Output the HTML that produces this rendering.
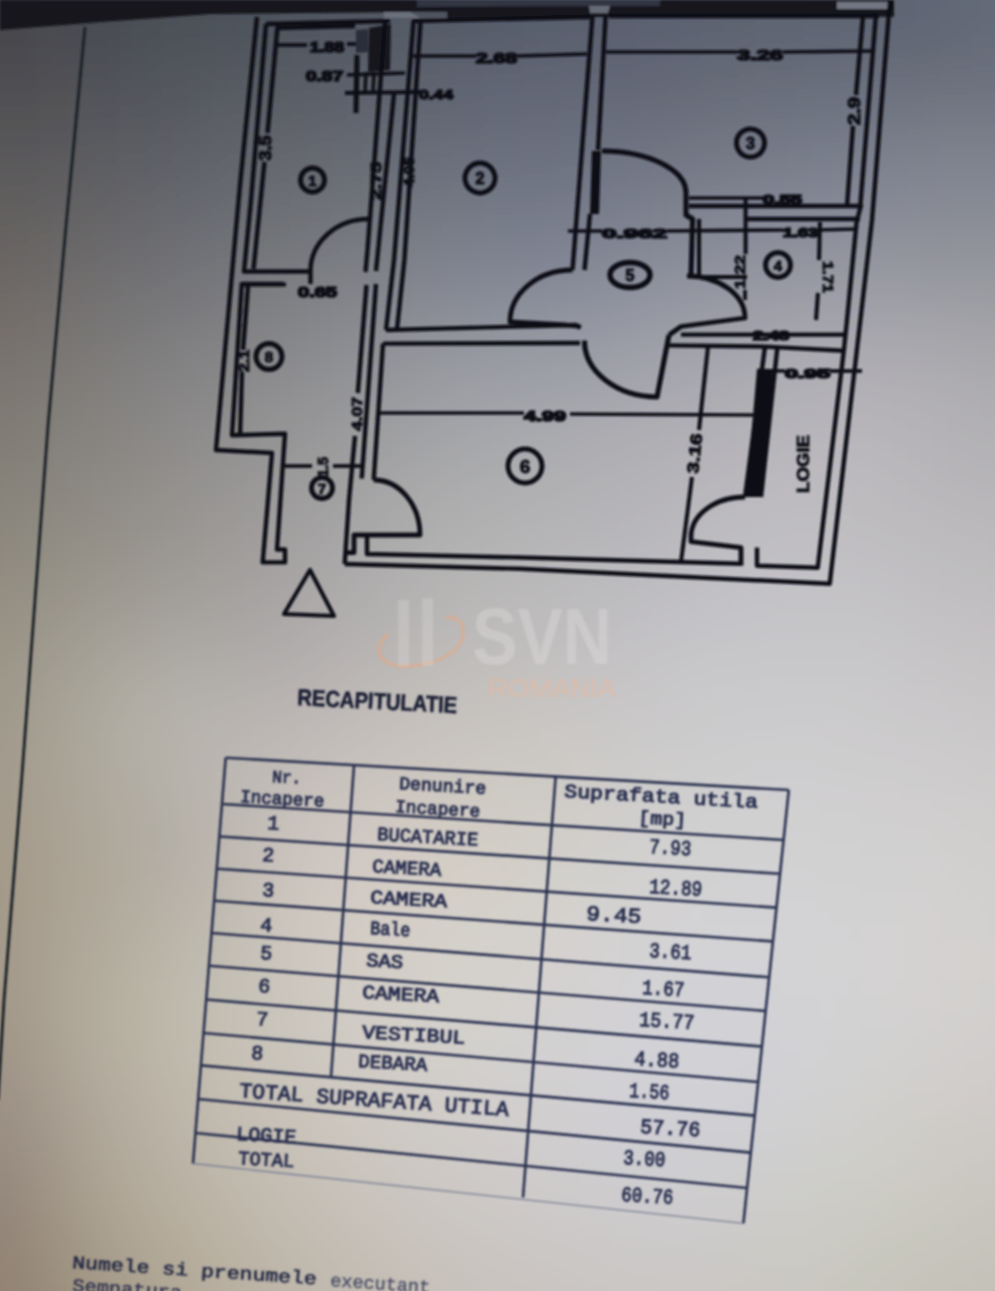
<!DOCTYPE html>
<html><head><meta charset="utf-8"><style>
html,body{margin:0;padding:0;width:995px;height:1291px;overflow:hidden;background:#a8a6a4}
svg{display:block}
</style></head><body>
<svg width="995" height="1291" viewBox="0 0 995 1291">
<defs><filter id="bl" x="-20%" y="-20%" width="140%" height="140%"><feGaussianBlur stdDeviation="28"/></filter>
<filter id="sb" x="-5%" y="-5%" width="110%" height="110%"><feGaussianBlur stdDeviation="1.0"/></filter></defs>
<g filter="url(#bl)"><rect x="-120" y="-120" width="41" height="41" fill="#434448"/><rect x="-80" y="-120" width="41" height="41" fill="#434448"/><rect x="-40" y="-120" width="41" height="41" fill="#434448"/><rect x="0" y="-120" width="41" height="41" fill="#44454a"/><rect x="40" y="-120" width="41" height="41" fill="#45474d"/><rect x="80" y="-120" width="41" height="41" fill="#464950"/><rect x="120" y="-120" width="41" height="41" fill="#474b52"/><rect x="160" y="-120" width="41" height="41" fill="#484d55"/><rect x="200" y="-120" width="41" height="41" fill="#4a4f57"/><rect x="240" y="-120" width="41" height="41" fill="#4b505a"/><rect x="280" y="-120" width="41" height="41" fill="#4d525c"/><rect x="320" y="-120" width="41" height="41" fill="#4e545f"/><rect x="360" y="-120" width="41" height="41" fill="#4f5661"/><rect x="400" y="-120" width="41" height="41" fill="#515764"/><rect x="440" y="-120" width="41" height="41" fill="#525966"/><rect x="480" y="-120" width="41" height="41" fill="#535a68"/><rect x="520" y="-120" width="41" height="41" fill="#555b69"/><rect x="560" y="-120" width="41" height="41" fill="#555c6a"/><rect x="600" y="-120" width="41" height="41" fill="#565d6b"/><rect x="640" y="-120" width="41" height="41" fill="#575e6c"/><rect x="680" y="-120" width="41" height="41" fill="#585f6d"/><rect x="720" y="-120" width="41" height="41" fill="#59606e"/><rect x="760" y="-120" width="41" height="41" fill="#5a616f"/><rect x="800" y="-120" width="41" height="41" fill="#5b626f"/><rect x="840" y="-120" width="41" height="41" fill="#5c6270"/><rect x="880" y="-120" width="41" height="41" fill="#5d6371"/><rect x="920" y="-120" width="41" height="41" fill="#5f6574"/><rect x="960" y="-120" width="41" height="41" fill="#636978"/><rect x="1000" y="-120" width="41" height="41" fill="#646a79"/><rect x="1040" y="-120" width="41" height="41" fill="#646a79"/><rect x="1080" y="-120" width="41" height="41" fill="#646a79"/><rect x="-120" y="-80" width="41" height="41" fill="#434448"/><rect x="-80" y="-80" width="41" height="41" fill="#434448"/><rect x="-40" y="-80" width="41" height="41" fill="#434448"/><rect x="0" y="-80" width="41" height="41" fill="#44454a"/><rect x="40" y="-80" width="41" height="41" fill="#45474d"/><rect x="80" y="-80" width="41" height="41" fill="#464950"/><rect x="120" y="-80" width="41" height="41" fill="#474b52"/><rect x="160" y="-80" width="41" height="41" fill="#484d55"/><rect x="200" y="-80" width="41" height="41" fill="#4a4f57"/><rect x="240" y="-80" width="41" height="41" fill="#4b505a"/><rect x="280" y="-80" width="41" height="41" fill="#4d525c"/><rect x="320" y="-80" width="41" height="41" fill="#4e545f"/><rect x="360" y="-80" width="41" height="41" fill="#4f5661"/><rect x="400" y="-80" width="41" height="41" fill="#515764"/><rect x="440" y="-80" width="41" height="41" fill="#525966"/><rect x="480" y="-80" width="41" height="41" fill="#535a68"/><rect x="520" y="-80" width="41" height="41" fill="#555b69"/><rect x="560" y="-80" width="41" height="41" fill="#555c6a"/><rect x="600" y="-80" width="41" height="41" fill="#565d6b"/><rect x="640" y="-80" width="41" height="41" fill="#575e6c"/><rect x="680" y="-80" width="41" height="41" fill="#585f6d"/><rect x="720" y="-80" width="41" height="41" fill="#59606e"/><rect x="760" y="-80" width="41" height="41" fill="#5a616f"/><rect x="800" y="-80" width="41" height="41" fill="#5b626f"/><rect x="840" y="-80" width="41" height="41" fill="#5c6270"/><rect x="880" y="-80" width="41" height="41" fill="#5d6371"/><rect x="920" y="-80" width="41" height="41" fill="#5f6574"/><rect x="960" y="-80" width="41" height="41" fill="#636978"/><rect x="1000" y="-80" width="41" height="41" fill="#646a79"/><rect x="1040" y="-80" width="41" height="41" fill="#646a79"/><rect x="1080" y="-80" width="41" height="41" fill="#646a79"/><rect x="-120" y="-40" width="41" height="41" fill="#434448"/><rect x="-80" y="-40" width="41" height="41" fill="#434448"/><rect x="-40" y="-40" width="41" height="41" fill="#434448"/><rect x="0" y="-40" width="41" height="41" fill="#44454a"/><rect x="40" y="-40" width="41" height="41" fill="#45474d"/><rect x="80" y="-40" width="41" height="41" fill="#464950"/><rect x="120" y="-40" width="41" height="41" fill="#474b52"/><rect x="160" y="-40" width="41" height="41" fill="#484d55"/><rect x="200" y="-40" width="41" height="41" fill="#4a4f57"/><rect x="240" y="-40" width="41" height="41" fill="#4b505a"/><rect x="280" y="-40" width="41" height="41" fill="#4d525c"/><rect x="320" y="-40" width="41" height="41" fill="#4e545f"/><rect x="360" y="-40" width="41" height="41" fill="#4f5661"/><rect x="400" y="-40" width="41" height="41" fill="#515764"/><rect x="440" y="-40" width="41" height="41" fill="#525966"/><rect x="480" y="-40" width="41" height="41" fill="#535a68"/><rect x="520" y="-40" width="41" height="41" fill="#555b69"/><rect x="560" y="-40" width="41" height="41" fill="#555c6a"/><rect x="600" y="-40" width="41" height="41" fill="#565d6b"/><rect x="640" y="-40" width="41" height="41" fill="#575e6c"/><rect x="680" y="-40" width="41" height="41" fill="#585f6d"/><rect x="720" y="-40" width="41" height="41" fill="#59606e"/><rect x="760" y="-40" width="41" height="41" fill="#5a616f"/><rect x="800" y="-40" width="41" height="41" fill="#5b626f"/><rect x="840" y="-40" width="41" height="41" fill="#5c6270"/><rect x="880" y="-40" width="41" height="41" fill="#5d6371"/><rect x="920" y="-40" width="41" height="41" fill="#5f6574"/><rect x="960" y="-40" width="41" height="41" fill="#636978"/><rect x="1000" y="-40" width="41" height="41" fill="#646a79"/><rect x="1040" y="-40" width="41" height="41" fill="#646a79"/><rect x="1080" y="-40" width="41" height="41" fill="#646a79"/><rect x="-120" y="0" width="41" height="41" fill="#46464a"/><rect x="-80" y="0" width="41" height="41" fill="#46464a"/><rect x="-40" y="0" width="41" height="41" fill="#46464a"/><rect x="0" y="0" width="41" height="41" fill="#46474c"/><rect x="40" y="0" width="41" height="41" fill="#47494f"/><rect x="80" y="0" width="41" height="41" fill="#484b51"/><rect x="120" y="0" width="41" height="41" fill="#494d54"/><rect x="160" y="0" width="41" height="41" fill="#4b4f57"/><rect x="200" y="0" width="41" height="41" fill="#4c5159"/><rect x="240" y="0" width="41" height="41" fill="#4e535c"/><rect x="280" y="0" width="41" height="41" fill="#4f555e"/><rect x="320" y="0" width="41" height="41" fill="#515661"/><rect x="360" y="0" width="41" height="41" fill="#525864"/><rect x="400" y="0" width="41" height="41" fill="#545a66"/><rect x="440" y="0" width="41" height="41" fill="#555b68"/><rect x="480" y="0" width="41" height="41" fill="#565c6a"/><rect x="520" y="0" width="41" height="41" fill="#575e6c"/><rect x="560" y="0" width="41" height="41" fill="#585e6d"/><rect x="600" y="0" width="41" height="41" fill="#595f6e"/><rect x="640" y="0" width="41" height="41" fill="#5a606f"/><rect x="680" y="0" width="41" height="41" fill="#5b6270"/><rect x="720" y="0" width="41" height="41" fill="#5c6370"/><rect x="760" y="0" width="41" height="41" fill="#5d6371"/><rect x="800" y="0" width="41" height="41" fill="#5e6472"/><rect x="840" y="0" width="41" height="41" fill="#5e6572"/><rect x="880" y="0" width="41" height="41" fill="#5f6573"/><rect x="920" y="0" width="41" height="41" fill="#606774"/><rect x="960" y="0" width="41" height="41" fill="#646a78"/><rect x="1000" y="0" width="41" height="41" fill="#656b79"/><rect x="1040" y="0" width="41" height="41" fill="#656b79"/><rect x="1080" y="0" width="41" height="41" fill="#656b79"/><rect x="-120" y="40" width="41" height="41" fill="#4b4b4e"/><rect x="-80" y="40" width="41" height="41" fill="#4b4b4e"/><rect x="-40" y="40" width="41" height="41" fill="#4b4b4e"/><rect x="0" y="40" width="41" height="41" fill="#4c4c50"/><rect x="40" y="40" width="41" height="41" fill="#4d4e53"/><rect x="80" y="40" width="41" height="41" fill="#4e5056"/><rect x="120" y="40" width="41" height="41" fill="#4f5258"/><rect x="160" y="40" width="41" height="41" fill="#50545b"/><rect x="200" y="40" width="41" height="41" fill="#52565e"/><rect x="240" y="40" width="41" height="41" fill="#535860"/><rect x="280" y="40" width="41" height="41" fill="#555a63"/><rect x="320" y="40" width="41" height="41" fill="#575c66"/><rect x="360" y="40" width="41" height="41" fill="#585d68"/><rect x="400" y="40" width="41" height="41" fill="#595f6b"/><rect x="440" y="40" width="41" height="41" fill="#5b606d"/><rect x="480" y="40" width="41" height="41" fill="#5c626f"/><rect x="520" y="40" width="41" height="41" fill="#5d6371"/><rect x="560" y="40" width="41" height="41" fill="#5e6372"/><rect x="600" y="40" width="41" height="41" fill="#5f6472"/><rect x="640" y="40" width="41" height="41" fill="#606573"/><rect x="680" y="40" width="41" height="41" fill="#616774"/><rect x="720" y="40" width="41" height="41" fill="#636875"/><rect x="760" y="40" width="41" height="41" fill="#646976"/><rect x="800" y="40" width="41" height="41" fill="#646a77"/><rect x="840" y="40" width="41" height="41" fill="#656b78"/><rect x="880" y="40" width="41" height="41" fill="#656b77"/><rect x="920" y="40" width="41" height="41" fill="#656b77"/><rect x="960" y="40" width="41" height="41" fill="#676d79"/><rect x="1000" y="40" width="41" height="41" fill="#696f7b"/><rect x="1040" y="40" width="41" height="41" fill="#696f7b"/><rect x="1080" y="40" width="41" height="41" fill="#696f7b"/><rect x="-120" y="80" width="41" height="41" fill="#515052"/><rect x="-80" y="80" width="41" height="41" fill="#515052"/><rect x="-40" y="80" width="41" height="41" fill="#515052"/><rect x="0" y="80" width="41" height="41" fill="#515154"/><rect x="40" y="80" width="41" height="41" fill="#525357"/><rect x="80" y="80" width="41" height="41" fill="#53555a"/><rect x="120" y="80" width="41" height="41" fill="#54575d"/><rect x="160" y="80" width="41" height="41" fill="#565960"/><rect x="200" y="80" width="41" height="41" fill="#585b62"/><rect x="240" y="80" width="41" height="41" fill="#595d65"/><rect x="280" y="80" width="41" height="41" fill="#5b5f68"/><rect x="320" y="80" width="41" height="41" fill="#5d616b"/><rect x="360" y="80" width="41" height="41" fill="#5e636e"/><rect x="400" y="80" width="41" height="41" fill="#606570"/><rect x="440" y="80" width="41" height="41" fill="#616673"/><rect x="480" y="80" width="41" height="41" fill="#626775"/><rect x="520" y="80" width="41" height="41" fill="#636876"/><rect x="560" y="80" width="41" height="41" fill="#646977"/><rect x="600" y="80" width="41" height="41" fill="#656a78"/><rect x="640" y="80" width="41" height="41" fill="#676b79"/><rect x="680" y="80" width="41" height="41" fill="#686d7a"/><rect x="720" y="80" width="41" height="41" fill="#6a6f7b"/><rect x="760" y="80" width="41" height="41" fill="#6b707d"/><rect x="800" y="80" width="41" height="41" fill="#6c717f"/><rect x="840" y="80" width="41" height="41" fill="#6d7280"/><rect x="880" y="80" width="41" height="41" fill="#6e7380"/><rect x="920" y="80" width="41" height="41" fill="#6f7480"/><rect x="960" y="80" width="41" height="41" fill="#707581"/><rect x="1000" y="80" width="41" height="41" fill="#717682"/><rect x="1040" y="80" width="41" height="41" fill="#717682"/><rect x="1080" y="80" width="41" height="41" fill="#717682"/><rect x="-120" y="120" width="41" height="41" fill="#565556"/><rect x="-80" y="120" width="41" height="41" fill="#565556"/><rect x="-40" y="120" width="41" height="41" fill="#565556"/><rect x="0" y="120" width="41" height="41" fill="#575658"/><rect x="40" y="120" width="41" height="41" fill="#58585b"/><rect x="80" y="120" width="41" height="41" fill="#595a5e"/><rect x="120" y="120" width="41" height="41" fill="#5a5c62"/><rect x="160" y="120" width="41" height="41" fill="#5c5f65"/><rect x="200" y="120" width="41" height="41" fill="#5e6167"/><rect x="240" y="120" width="41" height="41" fill="#60636a"/><rect x="280" y="120" width="41" height="41" fill="#62656d"/><rect x="320" y="120" width="41" height="41" fill="#636770"/><rect x="360" y="120" width="41" height="41" fill="#656973"/><rect x="400" y="120" width="41" height="41" fill="#666b76"/><rect x="440" y="120" width="41" height="41" fill="#676c79"/><rect x="480" y="120" width="41" height="41" fill="#686d7b"/><rect x="520" y="120" width="41" height="41" fill="#696e7d"/><rect x="560" y="120" width="41" height="41" fill="#6a6f7e"/><rect x="600" y="120" width="41" height="41" fill="#6c717f"/><rect x="640" y="120" width="41" height="41" fill="#6e7280"/><rect x="680" y="120" width="41" height="41" fill="#707481"/><rect x="720" y="120" width="41" height="41" fill="#727683"/><rect x="760" y="120" width="41" height="41" fill="#737886"/><rect x="800" y="120" width="41" height="41" fill="#757a88"/><rect x="840" y="120" width="41" height="41" fill="#767b89"/><rect x="880" y="120" width="41" height="41" fill="#787d8a"/><rect x="920" y="120" width="41" height="41" fill="#7a7f8b"/><rect x="960" y="120" width="41" height="41" fill="#7b7f8a"/><rect x="1000" y="120" width="41" height="41" fill="#7b7f8a"/><rect x="1040" y="120" width="41" height="41" fill="#7b7f8a"/><rect x="1080" y="120" width="41" height="41" fill="#7b7f8a"/><rect x="-120" y="160" width="41" height="41" fill="#5c5a5a"/><rect x="-80" y="160" width="41" height="41" fill="#5c5a5a"/><rect x="-40" y="160" width="41" height="41" fill="#5c5a5a"/><rect x="0" y="160" width="41" height="41" fill="#5d5b5c"/><rect x="40" y="160" width="41" height="41" fill="#5e5d60"/><rect x="80" y="160" width="41" height="41" fill="#5f6063"/><rect x="120" y="160" width="41" height="41" fill="#616267"/><rect x="160" y="160" width="41" height="41" fill="#62646a"/><rect x="200" y="160" width="41" height="41" fill="#64676d"/><rect x="240" y="160" width="41" height="41" fill="#67696f"/><rect x="280" y="160" width="41" height="41" fill="#696c72"/><rect x="320" y="160" width="41" height="41" fill="#6b6e75"/><rect x="360" y="160" width="41" height="41" fill="#6c7079"/><rect x="400" y="160" width="41" height="41" fill="#6d717c"/><rect x="440" y="160" width="41" height="41" fill="#6e737f"/><rect x="480" y="160" width="41" height="41" fill="#6f7482"/><rect x="520" y="160" width="41" height="41" fill="#707583"/><rect x="560" y="160" width="41" height="41" fill="#717685"/><rect x="600" y="160" width="41" height="41" fill="#737887"/><rect x="640" y="160" width="41" height="41" fill="#767a88"/><rect x="680" y="160" width="41" height="41" fill="#787c8a"/><rect x="720" y="160" width="41" height="41" fill="#7b7f8c"/><rect x="760" y="160" width="41" height="41" fill="#7c808e"/><rect x="800" y="160" width="41" height="41" fill="#7e8290"/><rect x="840" y="160" width="41" height="41" fill="#808491"/><rect x="880" y="160" width="41" height="41" fill="#828591"/><rect x="920" y="160" width="41" height="41" fill="#838792"/><rect x="960" y="160" width="41" height="41" fill="#838791"/><rect x="1000" y="160" width="41" height="41" fill="#838791"/><rect x="1040" y="160" width="41" height="41" fill="#838791"/><rect x="1080" y="160" width="41" height="41" fill="#838791"/><rect x="-120" y="200" width="41" height="41" fill="#635f5e"/><rect x="-80" y="200" width="41" height="41" fill="#635f5e"/><rect x="-40" y="200" width="41" height="41" fill="#635f5e"/><rect x="0" y="200" width="41" height="41" fill="#646060"/><rect x="40" y="200" width="41" height="41" fill="#656364"/><rect x="80" y="200" width="41" height="41" fill="#666568"/><rect x="120" y="200" width="41" height="41" fill="#67686c"/><rect x="160" y="200" width="41" height="41" fill="#696a70"/><rect x="200" y="200" width="41" height="41" fill="#6b6d73"/><rect x="240" y="200" width="41" height="41" fill="#6e7075"/><rect x="280" y="200" width="41" height="41" fill="#707278"/><rect x="320" y="200" width="41" height="41" fill="#72757c"/><rect x="360" y="200" width="41" height="41" fill="#74777f"/><rect x="400" y="200" width="41" height="41" fill="#757983"/><rect x="440" y="200" width="41" height="41" fill="#767a86"/><rect x="480" y="200" width="41" height="41" fill="#767b89"/><rect x="520" y="200" width="41" height="41" fill="#777c8b"/><rect x="560" y="200" width="41" height="41" fill="#797e8d"/><rect x="600" y="200" width="41" height="41" fill="#7c808e"/><rect x="640" y="200" width="41" height="41" fill="#7f8390"/><rect x="680" y="200" width="41" height="41" fill="#828592"/><rect x="720" y="200" width="41" height="41" fill="#848794"/><rect x="760" y="200" width="41" height="41" fill="#868a96"/><rect x="800" y="200" width="41" height="41" fill="#888b97"/><rect x="840" y="200" width="41" height="41" fill="#898c98"/><rect x="880" y="200" width="41" height="41" fill="#8a8d97"/><rect x="920" y="200" width="41" height="41" fill="#8a8c96"/><rect x="960" y="200" width="41" height="41" fill="#8a8d96"/><rect x="1000" y="200" width="41" height="41" fill="#8b8d96"/><rect x="1040" y="200" width="41" height="41" fill="#8b8d96"/><rect x="1080" y="200" width="41" height="41" fill="#8b8d96"/><rect x="-120" y="240" width="41" height="41" fill="#696462"/><rect x="-80" y="240" width="41" height="41" fill="#696462"/><rect x="-40" y="240" width="41" height="41" fill="#696462"/><rect x="0" y="240" width="41" height="41" fill="#6a6664"/><rect x="40" y="240" width="41" height="41" fill="#6c6969"/><rect x="80" y="240" width="41" height="41" fill="#6d6b6d"/><rect x="120" y="240" width="41" height="41" fill="#6e6e72"/><rect x="160" y="240" width="41" height="41" fill="#707176"/><rect x="200" y="240" width="41" height="41" fill="#727479"/><rect x="240" y="240" width="41" height="41" fill="#75777b"/><rect x="280" y="240" width="41" height="41" fill="#787a7e"/><rect x="320" y="240" width="41" height="41" fill="#7a7c82"/><rect x="360" y="240" width="41" height="41" fill="#7c7f86"/><rect x="400" y="240" width="41" height="41" fill="#7e818a"/><rect x="440" y="240" width="41" height="41" fill="#7e828e"/><rect x="480" y="240" width="41" height="41" fill="#7f8390"/><rect x="520" y="240" width="41" height="41" fill="#808492"/><rect x="560" y="240" width="41" height="41" fill="#828694"/><rect x="600" y="240" width="41" height="41" fill="#858996"/><rect x="640" y="240" width="41" height="41" fill="#888c98"/><rect x="680" y="240" width="41" height="41" fill="#8b8e9a"/><rect x="720" y="240" width="41" height="41" fill="#8e919c"/><rect x="760" y="240" width="41" height="41" fill="#91939e"/><rect x="800" y="240" width="41" height="41" fill="#93949f"/><rect x="840" y="240" width="41" height="41" fill="#93959f"/><rect x="880" y="240" width="41" height="41" fill="#93959d"/><rect x="920" y="240" width="41" height="41" fill="#92949b"/><rect x="960" y="240" width="41" height="41" fill="#92949b"/><rect x="1000" y="240" width="41" height="41" fill="#93949b"/><rect x="1040" y="240" width="41" height="41" fill="#93949b"/><rect x="1080" y="240" width="41" height="41" fill="#93949b"/><rect x="-120" y="280" width="41" height="41" fill="#6f6a66"/><rect x="-80" y="280" width="41" height="41" fill="#6f6a66"/><rect x="-40" y="280" width="41" height="41" fill="#6f6a66"/><rect x="0" y="280" width="41" height="41" fill="#706b68"/><rect x="40" y="280" width="41" height="41" fill="#726e6d"/><rect x="80" y="280" width="41" height="41" fill="#747272"/><rect x="120" y="280" width="41" height="41" fill="#757477"/><rect x="160" y="280" width="41" height="41" fill="#77777b"/><rect x="200" y="280" width="41" height="41" fill="#7a7a7e"/><rect x="240" y="280" width="41" height="41" fill="#7d7e82"/><rect x="280" y="280" width="41" height="41" fill="#808185"/><rect x="320" y="280" width="41" height="41" fill="#828489"/><rect x="360" y="280" width="41" height="41" fill="#85878e"/><rect x="400" y="280" width="41" height="41" fill="#878992"/><rect x="440" y="280" width="41" height="41" fill="#888b95"/><rect x="480" y="280" width="41" height="41" fill="#898d98"/><rect x="520" y="280" width="41" height="41" fill="#8a8e9a"/><rect x="560" y="280" width="41" height="41" fill="#8c909c"/><rect x="600" y="280" width="41" height="41" fill="#8f929e"/><rect x="640" y="280" width="41" height="41" fill="#9295a0"/><rect x="680" y="280" width="41" height="41" fill="#9597a2"/><rect x="720" y="280" width="41" height="41" fill="#999aa4"/><rect x="760" y="280" width="41" height="41" fill="#9b9ca6"/><rect x="800" y="280" width="41" height="41" fill="#9d9ea7"/><rect x="840" y="280" width="41" height="41" fill="#9e9fa7"/><rect x="880" y="280" width="41" height="41" fill="#9e9ea6"/><rect x="920" y="280" width="41" height="41" fill="#9d9ea4"/><rect x="960" y="280" width="41" height="41" fill="#9c9da3"/><rect x="1000" y="280" width="41" height="41" fill="#9c9ca2"/><rect x="1040" y="280" width="41" height="41" fill="#9c9ca2"/><rect x="1080" y="280" width="41" height="41" fill="#9c9ca2"/><rect x="-120" y="320" width="41" height="41" fill="#756f6a"/><rect x="-80" y="320" width="41" height="41" fill="#756f6a"/><rect x="-40" y="320" width="41" height="41" fill="#756f6a"/><rect x="0" y="320" width="41" height="41" fill="#76716d"/><rect x="40" y="320" width="41" height="41" fill="#787472"/><rect x="80" y="320" width="41" height="41" fill="#7a7877"/><rect x="120" y="320" width="41" height="41" fill="#7c7b7c"/><rect x="160" y="320" width="41" height="41" fill="#7f7e80"/><rect x="200" y="320" width="41" height="41" fill="#818184"/><rect x="240" y="320" width="41" height="41" fill="#848487"/><rect x="280" y="320" width="41" height="41" fill="#87888b"/><rect x="320" y="320" width="41" height="41" fill="#8a8b90"/><rect x="360" y="320" width="41" height="41" fill="#8d8f94"/><rect x="400" y="320" width="41" height="41" fill="#909299"/><rect x="440" y="320" width="41" height="41" fill="#92949c"/><rect x="480" y="320" width="41" height="41" fill="#93969f"/><rect x="520" y="320" width="41" height="41" fill="#9497a1"/><rect x="560" y="320" width="41" height="41" fill="#9699a3"/><rect x="600" y="320" width="41" height="41" fill="#999ba5"/><rect x="640" y="320" width="41" height="41" fill="#9c9ea7"/><rect x="680" y="320" width="41" height="41" fill="#9fa0a9"/><rect x="720" y="320" width="41" height="41" fill="#a2a3ab"/><rect x="760" y="320" width="41" height="41" fill="#a5a5ad"/><rect x="800" y="320" width="41" height="41" fill="#a7a7ae"/><rect x="840" y="320" width="41" height="41" fill="#a8a8ae"/><rect x="880" y="320" width="41" height="41" fill="#a8a7ad"/><rect x="920" y="320" width="41" height="41" fill="#a7a6ac"/><rect x="960" y="320" width="41" height="41" fill="#a5a5aa"/><rect x="1000" y="320" width="41" height="41" fill="#a4a4a9"/><rect x="1040" y="320" width="41" height="41" fill="#a4a4a9"/><rect x="1080" y="320" width="41" height="41" fill="#a4a4a9"/><rect x="-120" y="360" width="41" height="41" fill="#7a746e"/><rect x="-80" y="360" width="41" height="41" fill="#7a746e"/><rect x="-40" y="360" width="41" height="41" fill="#7a746e"/><rect x="0" y="360" width="41" height="41" fill="#7b7671"/><rect x="40" y="360" width="41" height="41" fill="#7e7a76"/><rect x="80" y="360" width="41" height="41" fill="#807d7b"/><rect x="120" y="360" width="41" height="41" fill="#838180"/><rect x="160" y="360" width="41" height="41" fill="#858485"/><rect x="200" y="360" width="41" height="41" fill="#888789"/><rect x="240" y="360" width="41" height="41" fill="#8b8b8d"/><rect x="280" y="360" width="41" height="41" fill="#8e8e91"/><rect x="320" y="360" width="41" height="41" fill="#919296"/><rect x="360" y="360" width="41" height="41" fill="#95969a"/><rect x="400" y="360" width="41" height="41" fill="#989a9f"/><rect x="440" y="360" width="41" height="41" fill="#9b9da3"/><rect x="480" y="360" width="41" height="41" fill="#9c9ea5"/><rect x="520" y="360" width="41" height="41" fill="#9ea0a7"/><rect x="560" y="360" width="41" height="41" fill="#a0a2a9"/><rect x="600" y="360" width="41" height="41" fill="#a2a3ab"/><rect x="640" y="360" width="41" height="41" fill="#a5a6ad"/><rect x="680" y="360" width="41" height="41" fill="#a8a8af"/><rect x="720" y="360" width="41" height="41" fill="#abaab1"/><rect x="760" y="360" width="41" height="41" fill="#aeadb3"/><rect x="800" y="360" width="41" height="41" fill="#b0afb5"/><rect x="840" y="360" width="41" height="41" fill="#b1afb5"/><rect x="880" y="360" width="41" height="41" fill="#b0aeb3"/><rect x="920" y="360" width="41" height="41" fill="#aeadb1"/><rect x="960" y="360" width="41" height="41" fill="#acabaf"/><rect x="1000" y="360" width="41" height="41" fill="#abaaae"/><rect x="1040" y="360" width="41" height="41" fill="#abaaae"/><rect x="1080" y="360" width="41" height="41" fill="#abaaae"/><rect x="-120" y="400" width="41" height="41" fill="#7e7972"/><rect x="-80" y="400" width="41" height="41" fill="#7e7972"/><rect x="-40" y="400" width="41" height="41" fill="#7e7972"/><rect x="0" y="400" width="41" height="41" fill="#807b75"/><rect x="40" y="400" width="41" height="41" fill="#837f7a"/><rect x="80" y="400" width="41" height="41" fill="#85837f"/><rect x="120" y="400" width="41" height="41" fill="#888684"/><rect x="160" y="400" width="41" height="41" fill="#8b8989"/><rect x="200" y="400" width="41" height="41" fill="#8e8d8d"/><rect x="240" y="400" width="41" height="41" fill="#919091"/><rect x="280" y="400" width="41" height="41" fill="#949496"/><rect x="320" y="400" width="41" height="41" fill="#98989a"/><rect x="360" y="400" width="41" height="41" fill="#9b9c9f"/><rect x="400" y="400" width="41" height="41" fill="#9fa0a4"/><rect x="440" y="400" width="41" height="41" fill="#a2a3a7"/><rect x="480" y="400" width="41" height="41" fill="#a4a5aa"/><rect x="520" y="400" width="41" height="41" fill="#a6a7ac"/><rect x="560" y="400" width="41" height="41" fill="#a8a9ae"/><rect x="600" y="400" width="41" height="41" fill="#aaabb0"/><rect x="640" y="400" width="41" height="41" fill="#adacb2"/><rect x="680" y="400" width="41" height="41" fill="#afaeb4"/><rect x="720" y="400" width="41" height="41" fill="#b2b1b6"/><rect x="760" y="400" width="41" height="41" fill="#b4b3b8"/><rect x="800" y="400" width="41" height="41" fill="#b6b4b9"/><rect x="840" y="400" width="41" height="41" fill="#b7b5b9"/><rect x="880" y="400" width="41" height="41" fill="#b5b3b7"/><rect x="920" y="400" width="41" height="41" fill="#b3b1b5"/><rect x="960" y="400" width="41" height="41" fill="#b1afb3"/><rect x="1000" y="400" width="41" height="41" fill="#b0aeb2"/><rect x="1040" y="400" width="41" height="41" fill="#b0aeb2"/><rect x="1080" y="400" width="41" height="41" fill="#b0aeb2"/><rect x="-120" y="440" width="41" height="41" fill="#837e76"/><rect x="-80" y="440" width="41" height="41" fill="#837e76"/><rect x="-40" y="440" width="41" height="41" fill="#837e76"/><rect x="0" y="440" width="41" height="41" fill="#848079"/><rect x="40" y="440" width="41" height="41" fill="#87847e"/><rect x="80" y="440" width="41" height="41" fill="#8a8782"/><rect x="120" y="440" width="41" height="41" fill="#8d8a87"/><rect x="160" y="440" width="41" height="41" fill="#908e8c"/><rect x="200" y="440" width="41" height="41" fill="#939190"/><rect x="240" y="440" width="41" height="41" fill="#969595"/><rect x="280" y="440" width="41" height="41" fill="#9a999a"/><rect x="320" y="440" width="41" height="41" fill="#9d9d9f"/><rect x="360" y="440" width="41" height="41" fill="#a1a1a3"/><rect x="400" y="440" width="41" height="41" fill="#a5a5a7"/><rect x="440" y="440" width="41" height="41" fill="#a8a9ab"/><rect x="480" y="440" width="41" height="41" fill="#aaabad"/><rect x="520" y="440" width="41" height="41" fill="#acadb0"/><rect x="560" y="440" width="41" height="41" fill="#afaeb2"/><rect x="600" y="440" width="41" height="41" fill="#b1b0b4"/><rect x="640" y="440" width="41" height="41" fill="#b2b1b6"/><rect x="680" y="440" width="41" height="41" fill="#b5b3b8"/><rect x="720" y="440" width="41" height="41" fill="#b7b5bb"/><rect x="760" y="440" width="41" height="41" fill="#b9b7bc"/><rect x="800" y="440" width="41" height="41" fill="#bab8bd"/><rect x="840" y="440" width="41" height="41" fill="#bab8bc"/><rect x="880" y="440" width="41" height="41" fill="#b9b7ba"/><rect x="920" y="440" width="41" height="41" fill="#b6b4b8"/><rect x="960" y="440" width="41" height="41" fill="#b4b3b6"/><rect x="1000" y="440" width="41" height="41" fill="#b4b2b5"/><rect x="1040" y="440" width="41" height="41" fill="#b4b2b5"/><rect x="1080" y="440" width="41" height="41" fill="#b4b2b5"/><rect x="-120" y="480" width="41" height="41" fill="#878279"/><rect x="-80" y="480" width="41" height="41" fill="#878279"/><rect x="-40" y="480" width="41" height="41" fill="#878279"/><rect x="0" y="480" width="41" height="41" fill="#89857c"/><rect x="40" y="480" width="41" height="41" fill="#8c8881"/><rect x="80" y="480" width="41" height="41" fill="#8f8b85"/><rect x="120" y="480" width="41" height="41" fill="#928e8a"/><rect x="160" y="480" width="41" height="41" fill="#95928f"/><rect x="200" y="480" width="41" height="41" fill="#989594"/><rect x="240" y="480" width="41" height="41" fill="#9b9999"/><rect x="280" y="480" width="41" height="41" fill="#9f9d9d"/><rect x="320" y="480" width="41" height="41" fill="#a2a2a2"/><rect x="360" y="480" width="41" height="41" fill="#a6a6a7"/><rect x="400" y="480" width="41" height="41" fill="#aaaaab"/><rect x="440" y="480" width="41" height="41" fill="#adadae"/><rect x="480" y="480" width="41" height="41" fill="#afafb1"/><rect x="520" y="480" width="41" height="41" fill="#b1b1b3"/><rect x="560" y="480" width="41" height="41" fill="#b3b2b5"/><rect x="600" y="480" width="41" height="41" fill="#b4b3b7"/><rect x="640" y="480" width="41" height="41" fill="#b6b5b9"/><rect x="680" y="480" width="41" height="41" fill="#b9b7bc"/><rect x="720" y="480" width="41" height="41" fill="#bbb9be"/><rect x="760" y="480" width="41" height="41" fill="#bdbbbf"/><rect x="800" y="480" width="41" height="41" fill="#bdbbbf"/><rect x="840" y="480" width="41" height="41" fill="#bdbbbe"/><rect x="880" y="480" width="41" height="41" fill="#bbb9bd"/><rect x="920" y="480" width="41" height="41" fill="#b9b7ba"/><rect x="960" y="480" width="41" height="41" fill="#b8b6b9"/><rect x="1000" y="480" width="41" height="41" fill="#b7b5b8"/><rect x="1040" y="480" width="41" height="41" fill="#b7b5b8"/><rect x="1080" y="480" width="41" height="41" fill="#b7b5b8"/><rect x="-120" y="520" width="41" height="41" fill="#8c877c"/><rect x="-80" y="520" width="41" height="41" fill="#8c877c"/><rect x="-40" y="520" width="41" height="41" fill="#8c877c"/><rect x="0" y="520" width="41" height="41" fill="#8e897f"/><rect x="40" y="520" width="41" height="41" fill="#918d84"/><rect x="80" y="520" width="41" height="41" fill="#949088"/><rect x="120" y="520" width="41" height="41" fill="#96938d"/><rect x="160" y="520" width="41" height="41" fill="#9a9692"/><rect x="200" y="520" width="41" height="41" fill="#9d9a97"/><rect x="240" y="520" width="41" height="41" fill="#a09d9c"/><rect x="280" y="520" width="41" height="41" fill="#a3a1a1"/><rect x="320" y="520" width="41" height="41" fill="#a7a5a6"/><rect x="360" y="520" width="41" height="41" fill="#abaaaa"/><rect x="400" y="520" width="41" height="41" fill="#aeaeae"/><rect x="440" y="520" width="41" height="41" fill="#b1b1b1"/><rect x="480" y="520" width="41" height="41" fill="#b3b3b4"/><rect x="520" y="520" width="41" height="41" fill="#b5b4b6"/><rect x="560" y="520" width="41" height="41" fill="#b6b5b8"/><rect x="600" y="520" width="41" height="41" fill="#b7b6ba"/><rect x="640" y="520" width="41" height="41" fill="#b9b8bd"/><rect x="680" y="520" width="41" height="41" fill="#bcbbbf"/><rect x="720" y="520" width="41" height="41" fill="#bebdc1"/><rect x="760" y="520" width="41" height="41" fill="#c0bec2"/><rect x="800" y="520" width="41" height="41" fill="#c0bec2"/><rect x="840" y="520" width="41" height="41" fill="#c0bec1"/><rect x="880" y="520" width="41" height="41" fill="#bebcbf"/><rect x="920" y="520" width="41" height="41" fill="#bdbbbd"/><rect x="960" y="520" width="41" height="41" fill="#bbb9bc"/><rect x="1000" y="520" width="41" height="41" fill="#bbb9bb"/><rect x="1040" y="520" width="41" height="41" fill="#bbb9bb"/><rect x="1080" y="520" width="41" height="41" fill="#bbb9bb"/><rect x="-120" y="560" width="41" height="41" fill="#918b80"/><rect x="-80" y="560" width="41" height="41" fill="#918b80"/><rect x="-40" y="560" width="41" height="41" fill="#918b80"/><rect x="0" y="560" width="41" height="41" fill="#938e83"/><rect x="40" y="560" width="41" height="41" fill="#969288"/><rect x="80" y="560" width="41" height="41" fill="#9a958d"/><rect x="120" y="560" width="41" height="41" fill="#9d9992"/><rect x="160" y="560" width="41" height="41" fill="#9f9c97"/><rect x="200" y="560" width="41" height="41" fill="#a29e9c"/><rect x="240" y="560" width="41" height="41" fill="#a4a1a0"/><rect x="280" y="560" width="41" height="41" fill="#a8a5a5"/><rect x="320" y="560" width="41" height="41" fill="#aca9a9"/><rect x="360" y="560" width="41" height="41" fill="#afaead"/><rect x="400" y="560" width="41" height="41" fill="#b3b1b1"/><rect x="440" y="560" width="41" height="41" fill="#b6b5b4"/><rect x="480" y="560" width="41" height="41" fill="#b8b7b7"/><rect x="520" y="560" width="41" height="41" fill="#b9b8b9"/><rect x="560" y="560" width="41" height="41" fill="#bab9bb"/><rect x="600" y="560" width="41" height="41" fill="#bbbabe"/><rect x="640" y="560" width="41" height="41" fill="#bdbcc0"/><rect x="680" y="560" width="41" height="41" fill="#c0bec3"/><rect x="720" y="560" width="41" height="41" fill="#c1c0c5"/><rect x="760" y="560" width="41" height="41" fill="#c2c1c5"/><rect x="800" y="560" width="41" height="41" fill="#c3c1c5"/><rect x="840" y="560" width="41" height="41" fill="#c2c1c4"/><rect x="880" y="560" width="41" height="41" fill="#c1c0c2"/><rect x="920" y="560" width="41" height="41" fill="#c0bec1"/><rect x="960" y="560" width="41" height="41" fill="#bfbdbf"/><rect x="1000" y="560" width="41" height="41" fill="#bfbcbe"/><rect x="1040" y="560" width="41" height="41" fill="#bfbcbe"/><rect x="1080" y="560" width="41" height="41" fill="#bfbcbe"/><rect x="-120" y="600" width="41" height="41" fill="#969083"/><rect x="-80" y="600" width="41" height="41" fill="#969083"/><rect x="-40" y="600" width="41" height="41" fill="#969083"/><rect x="0" y="600" width="41" height="41" fill="#989286"/><rect x="40" y="600" width="41" height="41" fill="#9c988d"/><rect x="80" y="600" width="41" height="41" fill="#a09c93"/><rect x="120" y="600" width="41" height="41" fill="#a4a099"/><rect x="160" y="600" width="41" height="41" fill="#a6a39e"/><rect x="200" y="600" width="41" height="41" fill="#a8a4a1"/><rect x="240" y="600" width="41" height="41" fill="#a9a6a5"/><rect x="280" y="600" width="41" height="41" fill="#ada9a9"/><rect x="320" y="600" width="41" height="41" fill="#b0adad"/><rect x="360" y="600" width="41" height="41" fill="#b4b1b1"/><rect x="400" y="600" width="41" height="41" fill="#b7b5b4"/><rect x="440" y="600" width="41" height="41" fill="#bab8b7"/><rect x="480" y="600" width="41" height="41" fill="#bcbab9"/><rect x="520" y="600" width="41" height="41" fill="#bdbcbc"/><rect x="560" y="600" width="41" height="41" fill="#bebdbe"/><rect x="600" y="600" width="41" height="41" fill="#c0bec1"/><rect x="640" y="600" width="41" height="41" fill="#c1c0c4"/><rect x="680" y="600" width="41" height="41" fill="#c3c2c6"/><rect x="720" y="600" width="41" height="41" fill="#c4c4c8"/><rect x="760" y="600" width="41" height="41" fill="#c5c4c8"/><rect x="800" y="600" width="41" height="41" fill="#c5c4c7"/><rect x="840" y="600" width="41" height="41" fill="#c5c4c7"/><rect x="880" y="600" width="41" height="41" fill="#c4c3c5"/><rect x="920" y="600" width="41" height="41" fill="#c3c1c4"/><rect x="960" y="600" width="41" height="41" fill="#c3c0c2"/><rect x="1000" y="600" width="41" height="41" fill="#c2c0c2"/><rect x="1040" y="600" width="41" height="41" fill="#c2c0c2"/><rect x="1080" y="600" width="41" height="41" fill="#c2c0c2"/><rect x="-120" y="640" width="41" height="41" fill="#9a9486"/><rect x="-80" y="640" width="41" height="41" fill="#9a9486"/><rect x="-40" y="640" width="41" height="41" fill="#9a9486"/><rect x="0" y="640" width="41" height="41" fill="#9d978a"/><rect x="40" y="640" width="41" height="41" fill="#a29d92"/><rect x="80" y="640" width="41" height="41" fill="#a7a399"/><rect x="120" y="640" width="41" height="41" fill="#aba8a0"/><rect x="160" y="640" width="41" height="41" fill="#aeaaa5"/><rect x="200" y="640" width="41" height="41" fill="#aeaba7"/><rect x="240" y="640" width="41" height="41" fill="#afabaa"/><rect x="280" y="640" width="41" height="41" fill="#b2aead"/><rect x="320" y="640" width="41" height="41" fill="#b6b2b1"/><rect x="360" y="640" width="41" height="41" fill="#b9b6b4"/><rect x="400" y="640" width="41" height="41" fill="#bcb9b7"/><rect x="440" y="640" width="41" height="41" fill="#bfbcba"/><rect x="480" y="640" width="41" height="41" fill="#c0bebc"/><rect x="520" y="640" width="41" height="41" fill="#c2c0bf"/><rect x="560" y="640" width="41" height="41" fill="#c3c1c1"/><rect x="600" y="640" width="41" height="41" fill="#c4c2c4"/><rect x="640" y="640" width="41" height="41" fill="#c5c4c7"/><rect x="680" y="640" width="41" height="41" fill="#c7c6c9"/><rect x="720" y="640" width="41" height="41" fill="#c7c7ca"/><rect x="760" y="640" width="41" height="41" fill="#c8c7ca"/><rect x="800" y="640" width="41" height="41" fill="#c8c7ca"/><rect x="840" y="640" width="41" height="41" fill="#c8c7c9"/><rect x="880" y="640" width="41" height="41" fill="#c7c6c8"/><rect x="920" y="640" width="41" height="41" fill="#c7c4c6"/><rect x="960" y="640" width="41" height="41" fill="#c6c3c5"/><rect x="1000" y="640" width="41" height="41" fill="#c5c3c4"/><rect x="1040" y="640" width="41" height="41" fill="#c5c3c4"/><rect x="1080" y="640" width="41" height="41" fill="#c5c3c4"/><rect x="-120" y="680" width="41" height="41" fill="#9d9689"/><rect x="-80" y="680" width="41" height="41" fill="#9d9689"/><rect x="-40" y="680" width="41" height="41" fill="#9d9689"/><rect x="0" y="680" width="41" height="41" fill="#a09a8d"/><rect x="40" y="680" width="41" height="41" fill="#a6a195"/><rect x="80" y="680" width="41" height="41" fill="#aca89d"/><rect x="120" y="680" width="41" height="41" fill="#b1aea5"/><rect x="160" y="680" width="41" height="41" fill="#b4b1ab"/><rect x="200" y="680" width="41" height="41" fill="#b5b1ad"/><rect x="240" y="680" width="41" height="41" fill="#b6b2af"/><rect x="280" y="680" width="41" height="41" fill="#b9b4b2"/><rect x="320" y="680" width="41" height="41" fill="#bcb7b5"/><rect x="360" y="680" width="41" height="41" fill="#bfbbb8"/><rect x="400" y="680" width="41" height="41" fill="#c2beba"/><rect x="440" y="680" width="41" height="41" fill="#c4c0bc"/><rect x="480" y="680" width="41" height="41" fill="#c5c2bf"/><rect x="520" y="680" width="41" height="41" fill="#c6c3c1"/><rect x="560" y="680" width="41" height="41" fill="#c7c5c4"/><rect x="600" y="680" width="41" height="41" fill="#c8c6c6"/><rect x="640" y="680" width="41" height="41" fill="#c9c7c9"/><rect x="680" y="680" width="41" height="41" fill="#c9c9cb"/><rect x="720" y="680" width="41" height="41" fill="#cacacc"/><rect x="760" y="680" width="41" height="41" fill="#cacacc"/><rect x="800" y="680" width="41" height="41" fill="#cacacc"/><rect x="840" y="680" width="41" height="41" fill="#cac9cb"/><rect x="880" y="680" width="41" height="41" fill="#cac8ca"/><rect x="920" y="680" width="41" height="41" fill="#c9c7c9"/><rect x="960" y="680" width="41" height="41" fill="#c9c6c7"/><rect x="1000" y="680" width="41" height="41" fill="#c8c5c7"/><rect x="1040" y="680" width="41" height="41" fill="#c8c5c7"/><rect x="1080" y="680" width="41" height="41" fill="#c8c5c7"/><rect x="-120" y="720" width="41" height="41" fill="#a0988a"/><rect x="-80" y="720" width="41" height="41" fill="#a0988a"/><rect x="-40" y="720" width="41" height="41" fill="#a0988a"/><rect x="0" y="720" width="41" height="41" fill="#a39c8e"/><rect x="40" y="720" width="41" height="41" fill="#a9a396"/><rect x="80" y="720" width="41" height="41" fill="#aeaa9f"/><rect x="120" y="720" width="41" height="41" fill="#b4b0a7"/><rect x="160" y="720" width="41" height="41" fill="#b7b3ac"/><rect x="200" y="720" width="41" height="41" fill="#b9b5b0"/><rect x="240" y="720" width="41" height="41" fill="#bcb7b3"/><rect x="280" y="720" width="41" height="41" fill="#bfbab7"/><rect x="320" y="720" width="41" height="41" fill="#c2bdb9"/><rect x="360" y="720" width="41" height="41" fill="#c5c0bc"/><rect x="400" y="720" width="41" height="41" fill="#c7c2bd"/><rect x="440" y="720" width="41" height="41" fill="#c8c4bf"/><rect x="480" y="720" width="41" height="41" fill="#c9c5c1"/><rect x="520" y="720" width="41" height="41" fill="#cac7c3"/><rect x="560" y="720" width="41" height="41" fill="#cbc8c6"/><rect x="600" y="720" width="41" height="41" fill="#cbc9c8"/><rect x="640" y="720" width="41" height="41" fill="#cccacb"/><rect x="680" y="720" width="41" height="41" fill="#cccbcc"/><rect x="720" y="720" width="41" height="41" fill="#ccccce"/><rect x="760" y="720" width="41" height="41" fill="#ccccce"/><rect x="800" y="720" width="41" height="41" fill="#cdccce"/><rect x="840" y="720" width="41" height="41" fill="#cdcccd"/><rect x="880" y="720" width="41" height="41" fill="#cccbcc"/><rect x="920" y="720" width="41" height="41" fill="#cccacb"/><rect x="960" y="720" width="41" height="41" fill="#cbc9ca"/><rect x="1000" y="720" width="41" height="41" fill="#cbc8c9"/><rect x="1040" y="720" width="41" height="41" fill="#cbc8c9"/><rect x="1080" y="720" width="41" height="41" fill="#cbc8c9"/><rect x="-120" y="760" width="41" height="41" fill="#a1998a"/><rect x="-80" y="760" width="41" height="41" fill="#a1998a"/><rect x="-40" y="760" width="41" height="41" fill="#a1998a"/><rect x="0" y="760" width="41" height="41" fill="#a49c8e"/><rect x="40" y="760" width="41" height="41" fill="#a9a396"/><rect x="80" y="760" width="41" height="41" fill="#aea99d"/><rect x="120" y="760" width="41" height="41" fill="#b3aea5"/><rect x="160" y="760" width="41" height="41" fill="#b6b2ab"/><rect x="200" y="760" width="41" height="41" fill="#bbb6b0"/><rect x="240" y="760" width="41" height="41" fill="#bfbab6"/><rect x="280" y="760" width="41" height="41" fill="#c4beba"/><rect x="320" y="760" width="41" height="41" fill="#c8c2bd"/><rect x="360" y="760" width="41" height="41" fill="#cac4bf"/><rect x="400" y="760" width="41" height="41" fill="#ccc6c0"/><rect x="440" y="760" width="41" height="41" fill="#cdc8c1"/><rect x="480" y="760" width="41" height="41" fill="#cdc9c3"/><rect x="520" y="760" width="41" height="41" fill="#cdcac5"/><rect x="560" y="760" width="41" height="41" fill="#cecbc7"/><rect x="600" y="760" width="41" height="41" fill="#ceccca"/><rect x="640" y="760" width="41" height="41" fill="#cecdcc"/><rect x="680" y="760" width="41" height="41" fill="#cecece"/><rect x="720" y="760" width="41" height="41" fill="#cfcecf"/><rect x="760" y="760" width="41" height="41" fill="#cfced0"/><rect x="800" y="760" width="41" height="41" fill="#cfcecf"/><rect x="840" y="760" width="41" height="41" fill="#cfcecf"/><rect x="880" y="760" width="41" height="41" fill="#cfcdce"/><rect x="920" y="760" width="41" height="41" fill="#cecccd"/><rect x="960" y="760" width="41" height="41" fill="#cecbcb"/><rect x="1000" y="760" width="41" height="41" fill="#cdcbcb"/><rect x="1040" y="760" width="41" height="41" fill="#cdcbcb"/><rect x="1080" y="760" width="41" height="41" fill="#cdcbcb"/><rect x="-120" y="800" width="41" height="41" fill="#a29889"/><rect x="-80" y="800" width="41" height="41" fill="#a29889"/><rect x="-40" y="800" width="41" height="41" fill="#a29889"/><rect x="0" y="800" width="41" height="41" fill="#a59c8d"/><rect x="40" y="800" width="41" height="41" fill="#aaa294"/><rect x="80" y="800" width="41" height="41" fill="#aea89b"/><rect x="120" y="800" width="41" height="41" fill="#b1aca2"/><rect x="160" y="800" width="41" height="41" fill="#b5b0a8"/><rect x="200" y="800" width="41" height="41" fill="#bbb6af"/><rect x="240" y="800" width="41" height="41" fill="#c2bcb7"/><rect x="280" y="800" width="41" height="41" fill="#c9c2bd"/><rect x="320" y="800" width="41" height="41" fill="#cdc6c0"/><rect x="360" y="800" width="41" height="41" fill="#cfc8c2"/><rect x="400" y="800" width="41" height="41" fill="#d0cac3"/><rect x="440" y="800" width="41" height="41" fill="#d0cbc3"/><rect x="480" y="800" width="41" height="41" fill="#d0ccc4"/><rect x="520" y="800" width="41" height="41" fill="#d0ccc7"/><rect x="560" y="800" width="41" height="41" fill="#d0cdc9"/><rect x="600" y="800" width="41" height="41" fill="#d0cecc"/><rect x="640" y="800" width="41" height="41" fill="#d0cfce"/><rect x="680" y="800" width="41" height="41" fill="#d0cfd0"/><rect x="720" y="800" width="41" height="41" fill="#d0d0d1"/><rect x="760" y="800" width="41" height="41" fill="#d0d0d1"/><rect x="800" y="800" width="41" height="41" fill="#d0d0d1"/><rect x="840" y="800" width="41" height="41" fill="#d0cfd0"/><rect x="880" y="800" width="41" height="41" fill="#d0cfcf"/><rect x="920" y="800" width="41" height="41" fill="#d0cece"/><rect x="960" y="800" width="41" height="41" fill="#d0cdcd"/><rect x="1000" y="800" width="41" height="41" fill="#cfcdcc"/><rect x="1040" y="800" width="41" height="41" fill="#cfcdcc"/><rect x="1080" y="800" width="41" height="41" fill="#cfcdcc"/><rect x="-120" y="840" width="41" height="41" fill="#a29888"/><rect x="-80" y="840" width="41" height="41" fill="#a29888"/><rect x="-40" y="840" width="41" height="41" fill="#a29888"/><rect x="0" y="840" width="41" height="41" fill="#a59b8c"/><rect x="40" y="840" width="41" height="41" fill="#aaa193"/><rect x="80" y="840" width="41" height="41" fill="#aea79a"/><rect x="120" y="840" width="41" height="41" fill="#b1aba1"/><rect x="160" y="840" width="41" height="41" fill="#b5b0a7"/><rect x="200" y="840" width="41" height="41" fill="#bcb6af"/><rect x="240" y="840" width="41" height="41" fill="#c4beb8"/><rect x="280" y="840" width="41" height="41" fill="#ccc5bf"/><rect x="320" y="840" width="41" height="41" fill="#d0c9c3"/><rect x="360" y="840" width="41" height="41" fill="#d2cbc4"/><rect x="400" y="840" width="41" height="41" fill="#d3ccc5"/><rect x="440" y="840" width="41" height="41" fill="#d3cdc5"/><rect x="480" y="840" width="41" height="41" fill="#d3cec6"/><rect x="520" y="840" width="41" height="41" fill="#d2cfc9"/><rect x="560" y="840" width="41" height="41" fill="#d2cfcb"/><rect x="600" y="840" width="41" height="41" fill="#d2d0ce"/><rect x="640" y="840" width="41" height="41" fill="#d2d0d0"/><rect x="680" y="840" width="41" height="41" fill="#d2d1d1"/><rect x="720" y="840" width="41" height="41" fill="#d2d1d2"/><rect x="760" y="840" width="41" height="41" fill="#d2d1d3"/><rect x="800" y="840" width="41" height="41" fill="#d2d1d2"/><rect x="840" y="840" width="41" height="41" fill="#d2d1d2"/><rect x="880" y="840" width="41" height="41" fill="#d2d0d1"/><rect x="920" y="840" width="41" height="41" fill="#d2d0cf"/><rect x="960" y="840" width="41" height="41" fill="#d1cfce"/><rect x="1000" y="840" width="41" height="41" fill="#d1cecd"/><rect x="1040" y="840" width="41" height="41" fill="#d1cecd"/><rect x="1080" y="840" width="41" height="41" fill="#d1cecd"/><rect x="-120" y="880" width="41" height="41" fill="#a29788"/><rect x="-80" y="880" width="41" height="41" fill="#a29788"/><rect x="-40" y="880" width="41" height="41" fill="#a29788"/><rect x="0" y="880" width="41" height="41" fill="#a59b8b"/><rect x="40" y="880" width="41" height="41" fill="#aba293"/><rect x="80" y="880" width="41" height="41" fill="#afa89a"/><rect x="120" y="880" width="41" height="41" fill="#b3ada1"/><rect x="160" y="880" width="41" height="41" fill="#b8b2a8"/><rect x="200" y="880" width="41" height="41" fill="#beb9b0"/><rect x="240" y="880" width="41" height="41" fill="#c6c0b8"/><rect x="280" y="880" width="41" height="41" fill="#cdc6bf"/><rect x="320" y="880" width="41" height="41" fill="#d1cac3"/><rect x="360" y="880" width="41" height="41" fill="#d3cdc6"/><rect x="400" y="880" width="41" height="41" fill="#d4cec7"/><rect x="440" y="880" width="41" height="41" fill="#d4cfc8"/><rect x="480" y="880" width="41" height="41" fill="#d4d0c9"/><rect x="520" y="880" width="41" height="41" fill="#d4d0cb"/><rect x="560" y="880" width="41" height="41" fill="#d3d1ce"/><rect x="600" y="880" width="41" height="41" fill="#d3d1d0"/><rect x="640" y="880" width="41" height="41" fill="#d3d1d2"/><rect x="680" y="880" width="41" height="41" fill="#d3d2d3"/><rect x="720" y="880" width="41" height="41" fill="#d2d2d4"/><rect x="760" y="880" width="41" height="41" fill="#d3d2d4"/><rect x="800" y="880" width="41" height="41" fill="#d3d2d3"/><rect x="840" y="880" width="41" height="41" fill="#d3d2d3"/><rect x="880" y="880" width="41" height="41" fill="#d3d2d1"/><rect x="920" y="880" width="41" height="41" fill="#d3d1d0"/><rect x="960" y="880" width="41" height="41" fill="#d2d0cf"/><rect x="1000" y="880" width="41" height="41" fill="#d2d0ce"/><rect x="1040" y="880" width="41" height="41" fill="#d2d0ce"/><rect x="1080" y="880" width="41" height="41" fill="#d2d0ce"/><rect x="-120" y="920" width="41" height="41" fill="#a29788"/><rect x="-80" y="920" width="41" height="41" fill="#a29788"/><rect x="-40" y="920" width="41" height="41" fill="#a29788"/><rect x="0" y="920" width="41" height="41" fill="#a59b8c"/><rect x="40" y="920" width="41" height="41" fill="#aca394"/><rect x="80" y="920" width="41" height="41" fill="#b1aa9c"/><rect x="120" y="920" width="41" height="41" fill="#b6b0a3"/><rect x="160" y="920" width="41" height="41" fill="#bbb6aa"/><rect x="200" y="920" width="41" height="41" fill="#c1bcb2"/><rect x="240" y="920" width="41" height="41" fill="#c7c2b9"/><rect x="280" y="920" width="41" height="41" fill="#cdc7bf"/><rect x="320" y="920" width="41" height="41" fill="#d1cbc4"/><rect x="360" y="920" width="41" height="41" fill="#d3cdc6"/><rect x="400" y="920" width="41" height="41" fill="#d4cfc8"/><rect x="440" y="920" width="41" height="41" fill="#d5d0ca"/><rect x="480" y="920" width="41" height="41" fill="#d4d1cb"/><rect x="520" y="920" width="41" height="41" fill="#d4d1cd"/><rect x="560" y="920" width="41" height="41" fill="#d4d1d0"/><rect x="600" y="920" width="41" height="41" fill="#d3d2d2"/><rect x="640" y="920" width="41" height="41" fill="#d3d2d3"/><rect x="680" y="920" width="41" height="41" fill="#d3d2d5"/><rect x="720" y="920" width="41" height="41" fill="#d3d2d5"/><rect x="760" y="920" width="41" height="41" fill="#d3d3d5"/><rect x="800" y="920" width="41" height="41" fill="#d3d3d4"/><rect x="840" y="920" width="41" height="41" fill="#d3d3d3"/><rect x="880" y="920" width="41" height="41" fill="#d4d2d2"/><rect x="920" y="920" width="41" height="41" fill="#d4d2d0"/><rect x="960" y="920" width="41" height="41" fill="#d3d1cf"/><rect x="1000" y="920" width="41" height="41" fill="#d3d0ce"/><rect x="1040" y="920" width="41" height="41" fill="#d3d0ce"/><rect x="1080" y="920" width="41" height="41" fill="#d3d0ce"/><rect x="-120" y="960" width="41" height="41" fill="#a19787"/><rect x="-80" y="960" width="41" height="41" fill="#a19787"/><rect x="-40" y="960" width="41" height="41" fill="#a19787"/><rect x="0" y="960" width="41" height="41" fill="#a59b8c"/><rect x="40" y="960" width="41" height="41" fill="#aca495"/><rect x="80" y="960" width="41" height="41" fill="#b3ac9d"/><rect x="120" y="960" width="41" height="41" fill="#b9b3a5"/><rect x="160" y="960" width="41" height="41" fill="#beb9ac"/><rect x="200" y="960" width="41" height="41" fill="#c3beb3"/><rect x="240" y="960" width="41" height="41" fill="#c8c3b9"/><rect x="280" y="960" width="41" height="41" fill="#cdc7bf"/><rect x="320" y="960" width="41" height="41" fill="#d0cbc3"/><rect x="360" y="960" width="41" height="41" fill="#d3cdc7"/><rect x="400" y="960" width="41" height="41" fill="#d4cfc9"/><rect x="440" y="960" width="41" height="41" fill="#d4d0cb"/><rect x="480" y="960" width="41" height="41" fill="#d4d1cd"/><rect x="520" y="960" width="41" height="41" fill="#d4d1cf"/><rect x="560" y="960" width="41" height="41" fill="#d4d2d1"/><rect x="600" y="960" width="41" height="41" fill="#d3d2d3"/><rect x="640" y="960" width="41" height="41" fill="#d3d2d5"/><rect x="680" y="960" width="41" height="41" fill="#d3d2d6"/><rect x="720" y="960" width="41" height="41" fill="#d3d2d6"/><rect x="760" y="960" width="41" height="41" fill="#d3d3d6"/><rect x="800" y="960" width="41" height="41" fill="#d3d3d4"/><rect x="840" y="960" width="41" height="41" fill="#d3d3d3"/><rect x="880" y="960" width="41" height="41" fill="#d4d2d2"/><rect x="920" y="960" width="41" height="41" fill="#d4d2d0"/><rect x="960" y="960" width="41" height="41" fill="#d3d0ce"/><rect x="1000" y="960" width="41" height="41" fill="#d3d0ce"/><rect x="1040" y="960" width="41" height="41" fill="#d3d0ce"/><rect x="1080" y="960" width="41" height="41" fill="#d3d0ce"/><rect x="-120" y="1000" width="41" height="41" fill="#a09587"/><rect x="-80" y="1000" width="41" height="41" fill="#a09587"/><rect x="-40" y="1000" width="41" height="41" fill="#a09587"/><rect x="0" y="1000" width="41" height="41" fill="#a49a8b"/><rect x="40" y="1000" width="41" height="41" fill="#aca495"/><rect x="80" y="1000" width="41" height="41" fill="#b4ad9e"/><rect x="120" y="1000" width="41" height="41" fill="#bab5a6"/><rect x="160" y="1000" width="41" height="41" fill="#bfbaad"/><rect x="200" y="1000" width="41" height="41" fill="#c4bfb3"/><rect x="240" y="1000" width="41" height="41" fill="#c8c3b9"/><rect x="280" y="1000" width="41" height="41" fill="#ccc7be"/><rect x="320" y="1000" width="41" height="41" fill="#cfcac3"/><rect x="360" y="1000" width="41" height="41" fill="#d2cdc6"/><rect x="400" y="1000" width="41" height="41" fill="#d3cfc9"/><rect x="440" y="1000" width="41" height="41" fill="#d3d0cc"/><rect x="480" y="1000" width="41" height="41" fill="#d4d1ce"/><rect x="520" y="1000" width="41" height="41" fill="#d3d1d0"/><rect x="560" y="1000" width="41" height="41" fill="#d3d1d2"/><rect x="600" y="1000" width="41" height="41" fill="#d3d1d4"/><rect x="640" y="1000" width="41" height="41" fill="#d2d2d6"/><rect x="680" y="1000" width="41" height="41" fill="#d2d2d7"/><rect x="720" y="1000" width="41" height="41" fill="#d2d2d7"/><rect x="760" y="1000" width="41" height="41" fill="#d2d2d6"/><rect x="800" y="1000" width="41" height="41" fill="#d3d2d4"/><rect x="840" y="1000" width="41" height="41" fill="#d3d2d2"/><rect x="880" y="1000" width="41" height="41" fill="#d3d1d1"/><rect x="920" y="1000" width="41" height="41" fill="#d3d0cf"/><rect x="960" y="1000" width="41" height="41" fill="#d2cfcd"/><rect x="1000" y="1000" width="41" height="41" fill="#d2cecd"/><rect x="1040" y="1000" width="41" height="41" fill="#d2cecd"/><rect x="1080" y="1000" width="41" height="41" fill="#d2cecd"/><rect x="-120" y="1040" width="41" height="41" fill="#9e9285"/><rect x="-80" y="1040" width="41" height="41" fill="#9e9285"/><rect x="-40" y="1040" width="41" height="41" fill="#9e9285"/><rect x="0" y="1040" width="41" height="41" fill="#a2978a"/><rect x="40" y="1040" width="41" height="41" fill="#aba294"/><rect x="80" y="1040" width="41" height="41" fill="#b3ac9d"/><rect x="120" y="1040" width="41" height="41" fill="#bab3a5"/><rect x="160" y="1040" width="41" height="41" fill="#bfb9ac"/><rect x="200" y="1040" width="41" height="41" fill="#c4beb3"/><rect x="240" y="1040" width="41" height="41" fill="#c8c2b8"/><rect x="280" y="1040" width="41" height="41" fill="#cbc6bd"/><rect x="320" y="1040" width="41" height="41" fill="#cec9c2"/><rect x="360" y="1040" width="41" height="41" fill="#d0ccc5"/><rect x="400" y="1040" width="41" height="41" fill="#d2cdc9"/><rect x="440" y="1040" width="41" height="41" fill="#d2cfcb"/><rect x="480" y="1040" width="41" height="41" fill="#d2d0ce"/><rect x="520" y="1040" width="41" height="41" fill="#d2d0d0"/><rect x="560" y="1040" width="41" height="41" fill="#d2d0d3"/><rect x="600" y="1040" width="41" height="41" fill="#d2d1d5"/><rect x="640" y="1040" width="41" height="41" fill="#d1d1d6"/><rect x="680" y="1040" width="41" height="41" fill="#d1d1d7"/><rect x="720" y="1040" width="41" height="41" fill="#d1d1d6"/><rect x="760" y="1040" width="41" height="41" fill="#d1d1d5"/><rect x="800" y="1040" width="41" height="41" fill="#d2d1d3"/><rect x="840" y="1040" width="41" height="41" fill="#d2d1d1"/><rect x="880" y="1040" width="41" height="41" fill="#d2d0cf"/><rect x="920" y="1040" width="41" height="41" fill="#d2cfcd"/><rect x="960" y="1040" width="41" height="41" fill="#d1cdcc"/><rect x="1000" y="1040" width="41" height="41" fill="#d1cdcb"/><rect x="1040" y="1040" width="41" height="41" fill="#d1cdcb"/><rect x="1080" y="1040" width="41" height="41" fill="#d1cdcb"/><rect x="-120" y="1080" width="41" height="41" fill="#9a8e83"/><rect x="-80" y="1080" width="41" height="41" fill="#9a8e83"/><rect x="-40" y="1080" width="41" height="41" fill="#9a8e83"/><rect x="0" y="1080" width="41" height="41" fill="#9f9487"/><rect x="40" y="1080" width="41" height="41" fill="#a89f91"/><rect x="80" y="1080" width="41" height="41" fill="#b1a99b"/><rect x="120" y="1080" width="41" height="41" fill="#b8b0a3"/><rect x="160" y="1080" width="41" height="41" fill="#bdb7aa"/><rect x="200" y="1080" width="41" height="41" fill="#c2bcb1"/><rect x="240" y="1080" width="41" height="41" fill="#c6c0b6"/><rect x="280" y="1080" width="41" height="41" fill="#cac4bb"/><rect x="320" y="1080" width="41" height="41" fill="#cdc7c0"/><rect x="360" y="1080" width="41" height="41" fill="#cfcac4"/><rect x="400" y="1080" width="41" height="41" fill="#d0ccc7"/><rect x="440" y="1080" width="41" height="41" fill="#d1cdca"/><rect x="480" y="1080" width="41" height="41" fill="#d1cecd"/><rect x="520" y="1080" width="41" height="41" fill="#d1cfcf"/><rect x="560" y="1080" width="41" height="41" fill="#d1cfd2"/><rect x="600" y="1080" width="41" height="41" fill="#d1cfd4"/><rect x="640" y="1080" width="41" height="41" fill="#d0d0d5"/><rect x="680" y="1080" width="41" height="41" fill="#d0d0d6"/><rect x="720" y="1080" width="41" height="41" fill="#d0d0d5"/><rect x="760" y="1080" width="41" height="41" fill="#d0d0d3"/><rect x="800" y="1080" width="41" height="41" fill="#d1d0d1"/><rect x="840" y="1080" width="41" height="41" fill="#d1d0ce"/><rect x="880" y="1080" width="41" height="41" fill="#d0cfcc"/><rect x="920" y="1080" width="41" height="41" fill="#d0cdca"/><rect x="960" y="1080" width="41" height="41" fill="#cfcbc9"/><rect x="1000" y="1080" width="41" height="41" fill="#cfcbc8"/><rect x="1040" y="1080" width="41" height="41" fill="#cfcbc8"/><rect x="1080" y="1080" width="41" height="41" fill="#cfcbc8"/><rect x="-120" y="1120" width="41" height="41" fill="#978a7f"/><rect x="-80" y="1120" width="41" height="41" fill="#978a7f"/><rect x="-40" y="1120" width="41" height="41" fill="#978a7f"/><rect x="0" y="1120" width="41" height="41" fill="#9b8f84"/><rect x="40" y="1120" width="41" height="41" fill="#a59b8e"/><rect x="80" y="1120" width="41" height="41" fill="#aea698"/><rect x="120" y="1120" width="41" height="41" fill="#b6ada0"/><rect x="160" y="1120" width="41" height="41" fill="#bbb4a7"/><rect x="200" y="1120" width="41" height="41" fill="#c0b9ae"/><rect x="240" y="1120" width="41" height="41" fill="#c5beb4"/><rect x="280" y="1120" width="41" height="41" fill="#c8c2b9"/><rect x="320" y="1120" width="41" height="41" fill="#cbc5bd"/><rect x="360" y="1120" width="41" height="41" fill="#cdc8c2"/><rect x="400" y="1120" width="41" height="41" fill="#cecac5"/><rect x="440" y="1120" width="41" height="41" fill="#cfcbc8"/><rect x="480" y="1120" width="41" height="41" fill="#d0cccb"/><rect x="520" y="1120" width="41" height="41" fill="#d0cdce"/><rect x="560" y="1120" width="41" height="41" fill="#d0ced0"/><rect x="600" y="1120" width="41" height="41" fill="#cfced2"/><rect x="640" y="1120" width="41" height="41" fill="#cfced3"/><rect x="680" y="1120" width="41" height="41" fill="#cfced3"/><rect x="720" y="1120" width="41" height="41" fill="#cfcfd2"/><rect x="760" y="1120" width="41" height="41" fill="#cfcfd0"/><rect x="800" y="1120" width="41" height="41" fill="#cfcfcd"/><rect x="840" y="1120" width="41" height="41" fill="#cfcecb"/><rect x="880" y="1120" width="41" height="41" fill="#cfcdc8"/><rect x="920" y="1120" width="41" height="41" fill="#cecbc7"/><rect x="960" y="1120" width="41" height="41" fill="#cdc9c5"/><rect x="1000" y="1120" width="41" height="41" fill="#cdc9c5"/><rect x="1040" y="1120" width="41" height="41" fill="#cdc9c5"/><rect x="1080" y="1120" width="41" height="41" fill="#cdc9c5"/><rect x="-120" y="1160" width="41" height="41" fill="#93857b"/><rect x="-80" y="1160" width="41" height="41" fill="#93857b"/><rect x="-40" y="1160" width="41" height="41" fill="#93857b"/><rect x="0" y="1160" width="41" height="41" fill="#978b80"/><rect x="40" y="1160" width="41" height="41" fill="#a3988a"/><rect x="80" y="1160" width="41" height="41" fill="#ada494"/><rect x="120" y="1160" width="41" height="41" fill="#b4ab9c"/><rect x="160" y="1160" width="41" height="41" fill="#b9b1a4"/><rect x="200" y="1160" width="41" height="41" fill="#beb7aa"/><rect x="240" y="1160" width="41" height="41" fill="#c2bbb0"/><rect x="280" y="1160" width="41" height="41" fill="#c6bfb6"/><rect x="320" y="1160" width="41" height="41" fill="#c8c3ba"/><rect x="360" y="1160" width="41" height="41" fill="#cbc5bf"/><rect x="400" y="1160" width="41" height="41" fill="#ccc7c2"/><rect x="440" y="1160" width="41" height="41" fill="#cdc9c6"/><rect x="480" y="1160" width="41" height="41" fill="#cecac8"/><rect x="520" y="1160" width="41" height="41" fill="#cecbcb"/><rect x="560" y="1160" width="41" height="41" fill="#cecccd"/><rect x="600" y="1160" width="41" height="41" fill="#cecccf"/><rect x="640" y="1160" width="41" height="41" fill="#cecdd0"/><rect x="680" y="1160" width="41" height="41" fill="#cecdd0"/><rect x="720" y="1160" width="41" height="41" fill="#cecdce"/><rect x="760" y="1160" width="41" height="41" fill="#cecdcc"/><rect x="800" y="1160" width="41" height="41" fill="#cecdca"/><rect x="840" y="1160" width="41" height="41" fill="#cecdc7"/><rect x="880" y="1160" width="41" height="41" fill="#cdccc4"/><rect x="920" y="1160" width="41" height="41" fill="#ccc9c2"/><rect x="960" y="1160" width="41" height="41" fill="#cac7c1"/><rect x="1000" y="1160" width="41" height="41" fill="#cac7c1"/><rect x="1040" y="1160" width="41" height="41" fill="#cac7c1"/><rect x="1080" y="1160" width="41" height="41" fill="#cac7c1"/><rect x="-120" y="1200" width="41" height="41" fill="#918377"/><rect x="-80" y="1200" width="41" height="41" fill="#918377"/><rect x="-40" y="1200" width="41" height="41" fill="#918377"/><rect x="0" y="1200" width="41" height="41" fill="#95887b"/><rect x="40" y="1200" width="41" height="41" fill="#a09585"/><rect x="80" y="1200" width="41" height="41" fill="#aaa08f"/><rect x="120" y="1200" width="41" height="41" fill="#b1a898"/><rect x="160" y="1200" width="41" height="41" fill="#b7ae9f"/><rect x="200" y="1200" width="41" height="41" fill="#bcb4a6"/><rect x="240" y="1200" width="41" height="41" fill="#c0b8ac"/><rect x="280" y="1200" width="41" height="41" fill="#c3bcb2"/><rect x="320" y="1200" width="41" height="41" fill="#c6c0b7"/><rect x="360" y="1200" width="41" height="41" fill="#c8c2bb"/><rect x="400" y="1200" width="41" height="41" fill="#cac5bf"/><rect x="440" y="1200" width="41" height="41" fill="#cbc6c2"/><rect x="480" y="1200" width="41" height="41" fill="#ccc8c5"/><rect x="520" y="1200" width="41" height="41" fill="#ccc9c8"/><rect x="560" y="1200" width="41" height="41" fill="#cdc9ca"/><rect x="600" y="1200" width="41" height="41" fill="#cdcacb"/><rect x="640" y="1200" width="41" height="41" fill="#cdcbcc"/><rect x="680" y="1200" width="41" height="41" fill="#cdcbcb"/><rect x="720" y="1200" width="41" height="41" fill="#cdcbca"/><rect x="760" y="1200" width="41" height="41" fill="#cdccc8"/><rect x="800" y="1200" width="41" height="41" fill="#cccbc6"/><rect x="840" y="1200" width="41" height="41" fill="#cbcac3"/><rect x="880" y="1200" width="41" height="41" fill="#cac9c0"/><rect x="920" y="1200" width="41" height="41" fill="#c9c7bf"/><rect x="960" y="1200" width="41" height="41" fill="#c8c5be"/><rect x="1000" y="1200" width="41" height="41" fill="#c7c5bd"/><rect x="1040" y="1200" width="41" height="41" fill="#c7c5bd"/><rect x="1080" y="1200" width="41" height="41" fill="#c7c5bd"/><rect x="-120" y="1240" width="41" height="41" fill="#908173"/><rect x="-80" y="1240" width="41" height="41" fill="#908173"/><rect x="-40" y="1240" width="41" height="41" fill="#908173"/><rect x="0" y="1240" width="41" height="41" fill="#948677"/><rect x="40" y="1240" width="41" height="41" fill="#9d9180"/><rect x="80" y="1240" width="41" height="41" fill="#a69c8a"/><rect x="120" y="1240" width="41" height="41" fill="#aea493"/><rect x="160" y="1240" width="41" height="41" fill="#b4ab9a"/><rect x="200" y="1240" width="41" height="41" fill="#b9b0a1"/><rect x="240" y="1240" width="41" height="41" fill="#bdb5a8"/><rect x="280" y="1240" width="41" height="41" fill="#c0b9ad"/><rect x="320" y="1240" width="41" height="41" fill="#c3bcb2"/><rect x="360" y="1240" width="41" height="41" fill="#c6bfb7"/><rect x="400" y="1240" width="41" height="41" fill="#c7c2bb"/><rect x="440" y="1240" width="41" height="41" fill="#c9c4be"/><rect x="480" y="1240" width="41" height="41" fill="#cac5c1"/><rect x="520" y="1240" width="41" height="41" fill="#cac6c4"/><rect x="560" y="1240" width="41" height="41" fill="#cbc7c5"/><rect x="600" y="1240" width="41" height="41" fill="#cbc8c7"/><rect x="640" y="1240" width="41" height="41" fill="#cbc8c7"/><rect x="680" y="1240" width="41" height="41" fill="#cbc9c7"/><rect x="720" y="1240" width="41" height="41" fill="#cbc9c6"/><rect x="760" y="1240" width="41" height="41" fill="#cbc9c4"/><rect x="800" y="1240" width="41" height="41" fill="#cac9c2"/><rect x="840" y="1240" width="41" height="41" fill="#c9c8bf"/><rect x="880" y="1240" width="41" height="41" fill="#c7c6bd"/><rect x="920" y="1240" width="41" height="41" fill="#c6c4bb"/><rect x="960" y="1240" width="41" height="41" fill="#c5c3ba"/><rect x="1000" y="1240" width="41" height="41" fill="#c5c2ba"/><rect x="1040" y="1240" width="41" height="41" fill="#c5c2ba"/><rect x="1080" y="1240" width="41" height="41" fill="#c5c2ba"/><rect x="-120" y="1280" width="41" height="41" fill="#8f7f70"/><rect x="-80" y="1280" width="41" height="41" fill="#8f7f70"/><rect x="-40" y="1280" width="41" height="41" fill="#8f7f70"/><rect x="0" y="1280" width="41" height="41" fill="#938474"/><rect x="40" y="1280" width="41" height="41" fill="#9b8e7d"/><rect x="80" y="1280" width="41" height="41" fill="#a49886"/><rect x="120" y="1280" width="41" height="41" fill="#aba08f"/><rect x="160" y="1280" width="41" height="41" fill="#b1a797"/><rect x="200" y="1280" width="41" height="41" fill="#b6ad9e"/><rect x="240" y="1280" width="41" height="41" fill="#bab2a4"/><rect x="280" y="1280" width="41" height="41" fill="#beb6aa"/><rect x="320" y="1280" width="41" height="41" fill="#c1baaf"/><rect x="360" y="1280" width="41" height="41" fill="#c3bdb3"/><rect x="400" y="1280" width="41" height="41" fill="#c5bfb7"/><rect x="440" y="1280" width="41" height="41" fill="#c7c1bb"/><rect x="480" y="1280" width="41" height="41" fill="#c8c3be"/><rect x="520" y="1280" width="41" height="41" fill="#c9c4c0"/><rect x="560" y="1280" width="41" height="41" fill="#c9c5c2"/><rect x="600" y="1280" width="41" height="41" fill="#cac6c3"/><rect x="640" y="1280" width="41" height="41" fill="#cac7c4"/><rect x="680" y="1280" width="41" height="41" fill="#cac7c4"/><rect x="720" y="1280" width="41" height="41" fill="#cac7c3"/><rect x="760" y="1280" width="41" height="41" fill="#cac7c1"/><rect x="800" y="1280" width="41" height="41" fill="#c9c7bf"/><rect x="840" y="1280" width="41" height="41" fill="#c7c5bd"/><rect x="880" y="1280" width="41" height="41" fill="#c6c4ba"/><rect x="920" y="1280" width="41" height="41" fill="#c4c2b9"/><rect x="960" y="1280" width="41" height="41" fill="#c3c1b8"/><rect x="1000" y="1280" width="41" height="41" fill="#c3c0b8"/><rect x="1040" y="1280" width="41" height="41" fill="#c3c0b8"/><rect x="1080" y="1280" width="41" height="41" fill="#c3c0b8"/><rect x="-120" y="1320" width="41" height="41" fill="#8f7f70"/><rect x="-80" y="1320" width="41" height="41" fill="#8f7f70"/><rect x="-40" y="1320" width="41" height="41" fill="#8f7f70"/><rect x="0" y="1320" width="41" height="41" fill="#938474"/><rect x="40" y="1320" width="41" height="41" fill="#9b8e7d"/><rect x="80" y="1320" width="41" height="41" fill="#a49886"/><rect x="120" y="1320" width="41" height="41" fill="#aba08f"/><rect x="160" y="1320" width="41" height="41" fill="#b1a797"/><rect x="200" y="1320" width="41" height="41" fill="#b6ad9e"/><rect x="240" y="1320" width="41" height="41" fill="#bab2a4"/><rect x="280" y="1320" width="41" height="41" fill="#beb6aa"/><rect x="320" y="1320" width="41" height="41" fill="#c1baaf"/><rect x="360" y="1320" width="41" height="41" fill="#c3bdb3"/><rect x="400" y="1320" width="41" height="41" fill="#c5bfb7"/><rect x="440" y="1320" width="41" height="41" fill="#c7c1bb"/><rect x="480" y="1320" width="41" height="41" fill="#c8c3be"/><rect x="520" y="1320" width="41" height="41" fill="#c9c4c0"/><rect x="560" y="1320" width="41" height="41" fill="#c9c5c2"/><rect x="600" y="1320" width="41" height="41" fill="#cac6c3"/><rect x="640" y="1320" width="41" height="41" fill="#cac7c4"/><rect x="680" y="1320" width="41" height="41" fill="#cac7c4"/><rect x="720" y="1320" width="41" height="41" fill="#cac7c3"/><rect x="760" y="1320" width="41" height="41" fill="#cac7c1"/><rect x="800" y="1320" width="41" height="41" fill="#c9c7bf"/><rect x="840" y="1320" width="41" height="41" fill="#c7c5bd"/><rect x="880" y="1320" width="41" height="41" fill="#c6c4ba"/><rect x="920" y="1320" width="41" height="41" fill="#c4c2b9"/><rect x="960" y="1320" width="41" height="41" fill="#c3c1b8"/><rect x="1000" y="1320" width="41" height="41" fill="#c3c0b8"/><rect x="1040" y="1320" width="41" height="41" fill="#c3c0b8"/><rect x="1080" y="1320" width="41" height="41" fill="#c3c0b8"/><rect x="-120" y="1360" width="41" height="41" fill="#8f7f70"/><rect x="-80" y="1360" width="41" height="41" fill="#8f7f70"/><rect x="-40" y="1360" width="41" height="41" fill="#8f7f70"/><rect x="0" y="1360" width="41" height="41" fill="#938474"/><rect x="40" y="1360" width="41" height="41" fill="#9b8e7d"/><rect x="80" y="1360" width="41" height="41" fill="#a49886"/><rect x="120" y="1360" width="41" height="41" fill="#aba08f"/><rect x="160" y="1360" width="41" height="41" fill="#b1a797"/><rect x="200" y="1360" width="41" height="41" fill="#b6ad9e"/><rect x="240" y="1360" width="41" height="41" fill="#bab2a4"/><rect x="280" y="1360" width="41" height="41" fill="#beb6aa"/><rect x="320" y="1360" width="41" height="41" fill="#c1baaf"/><rect x="360" y="1360" width="41" height="41" fill="#c3bdb3"/><rect x="400" y="1360" width="41" height="41" fill="#c5bfb7"/><rect x="440" y="1360" width="41" height="41" fill="#c7c1bb"/><rect x="480" y="1360" width="41" height="41" fill="#c8c3be"/><rect x="520" y="1360" width="41" height="41" fill="#c9c4c0"/><rect x="560" y="1360" width="41" height="41" fill="#c9c5c2"/><rect x="600" y="1360" width="41" height="41" fill="#cac6c3"/><rect x="640" y="1360" width="41" height="41" fill="#cac7c4"/><rect x="680" y="1360" width="41" height="41" fill="#cac7c4"/><rect x="720" y="1360" width="41" height="41" fill="#cac7c3"/><rect x="760" y="1360" width="41" height="41" fill="#cac7c1"/><rect x="800" y="1360" width="41" height="41" fill="#c9c7bf"/><rect x="840" y="1360" width="41" height="41" fill="#c7c5bd"/><rect x="880" y="1360" width="41" height="41" fill="#c6c4ba"/><rect x="920" y="1360" width="41" height="41" fill="#c4c2b9"/><rect x="960" y="1360" width="41" height="41" fill="#c3c1b8"/><rect x="1000" y="1360" width="41" height="41" fill="#c3c0b8"/><rect x="1040" y="1360" width="41" height="41" fill="#c3c0b8"/><rect x="1080" y="1360" width="41" height="41" fill="#c3c0b8"/><rect x="-120" y="1400" width="41" height="41" fill="#8f7f70"/><rect x="-80" y="1400" width="41" height="41" fill="#8f7f70"/><rect x="-40" y="1400" width="41" height="41" fill="#8f7f70"/><rect x="0" y="1400" width="41" height="41" fill="#938474"/><rect x="40" y="1400" width="41" height="41" fill="#9b8e7d"/><rect x="80" y="1400" width="41" height="41" fill="#a49886"/><rect x="120" y="1400" width="41" height="41" fill="#aba08f"/><rect x="160" y="1400" width="41" height="41" fill="#b1a797"/><rect x="200" y="1400" width="41" height="41" fill="#b6ad9e"/><rect x="240" y="1400" width="41" height="41" fill="#bab2a4"/><rect x="280" y="1400" width="41" height="41" fill="#beb6aa"/><rect x="320" y="1400" width="41" height="41" fill="#c1baaf"/><rect x="360" y="1400" width="41" height="41" fill="#c3bdb3"/><rect x="400" y="1400" width="41" height="41" fill="#c5bfb7"/><rect x="440" y="1400" width="41" height="41" fill="#c7c1bb"/><rect x="480" y="1400" width="41" height="41" fill="#c8c3be"/><rect x="520" y="1400" width="41" height="41" fill="#c9c4c0"/><rect x="560" y="1400" width="41" height="41" fill="#c9c5c2"/><rect x="600" y="1400" width="41" height="41" fill="#cac6c3"/><rect x="640" y="1400" width="41" height="41" fill="#cac7c4"/><rect x="680" y="1400" width="41" height="41" fill="#cac7c4"/><rect x="720" y="1400" width="41" height="41" fill="#cac7c3"/><rect x="760" y="1400" width="41" height="41" fill="#cac7c1"/><rect x="800" y="1400" width="41" height="41" fill="#c9c7bf"/><rect x="840" y="1400" width="41" height="41" fill="#c7c5bd"/><rect x="880" y="1400" width="41" height="41" fill="#c6c4ba"/><rect x="920" y="1400" width="41" height="41" fill="#c4c2b9"/><rect x="960" y="1400" width="41" height="41" fill="#c3c1b8"/><rect x="1000" y="1400" width="41" height="41" fill="#c3c0b8"/><rect x="1040" y="1400" width="41" height="41" fill="#c3c0b8"/><rect x="1080" y="1400" width="41" height="41" fill="#c3c0b8"/></g>
<g filter="url(#sb)">
<path d="M0,0 L894,0 L894,17 L840,16 L600,17 L420,18 L410,12 L210,14 L100,22 L0,30 Z" fill="#13141b"/><path d="M837,2 L889,2 L889,9 L837,9 Z" fill="#9aa0ad" opacity="0.7"/><path d="M417,0 L660,0 L660,6 L417,7 Z" fill="#3c4252" opacity="0.75"/><path d="M589,6 L610,6 L608,13 L590,13 Z" fill="#8a909c" opacity="0.7"/><path d="M384,12 L447,12 L447,18 L384,18 Z" fill="#7a808c" opacity="0.6"/><path d="M85.0,27.0 L66.0,226.0 L48.0,426.0 L35.0,600.0 L22.0,775.0 L4.0,1000.0 L-2.0,1100.0" stroke="#1e2028" stroke-width="2.89" fill="none" stroke-linejoin="round" /><path d="M257.0,17.0 L240.0,185.0 L216.0,450.0 L272.0,453.0 L262.7,562.4 L285.0,562.4 L285.0,549.5 L277.0,549.5 L285.0,433.7 L232.0,435.3 L241.8,284.0 L283.6,284.0" stroke="#0e1019" stroke-width="4.42" fill="none" stroke-linejoin="round" /><path d="M266.0,24.0 L251.0,200.0 L244.0,271.5 L310.5,271.5" stroke="#0e1019" stroke-width="4.42" fill="none" stroke-linejoin="round" /><path d="M277.5,27.0 L267.5,133.0" stroke="#0e1019" stroke-width="4.42" fill="none" stroke-linejoin="round" /><path d="M264.5,162.0 L253.5,269.0" stroke="#0e1019" stroke-width="4.42" fill="none" stroke-linejoin="round" /><path d="M248.0,286.0 L243.0,350.0" stroke="#0e1019" stroke-width="4.42" fill="none" stroke-linejoin="round" /><path d="M242.0,372.0 L240.0,437.0" stroke="#0e1019" stroke-width="4.42" fill="none" stroke-linejoin="round" /><path d="M266.0,24.0 L390.0,21.0" stroke="#0e1019" stroke-width="4.42" fill="none" stroke-linejoin="round" /><path d="M276.0,28.0 L355.0,26.0" stroke="#0e1019" stroke-width="4.42" fill="none" stroke-linejoin="round" /><path d="M276.0,45.0 L307.0,45.0" stroke="#0e1019" stroke-width="3.74" fill="none" stroke-linejoin="round" /><path d="M347.0,44.0 L357.0,44.0" stroke="#0e1019" stroke-width="3.74" fill="none" stroke-linejoin="round" /><text x="310" y="52" font-family="Liberation Sans" font-size="14" font-weight="bold" fill="#0e1019" stroke="#0e1019" stroke-width="1.7" text-anchor="start" textLength="34" lengthAdjust="spacingAndGlyphs">1.88</text><text x="306" y="81" font-family="Liberation Sans" font-size="14" font-weight="bold" fill="#0e1019" stroke="#0e1019" stroke-width="1.7" text-anchor="start" textLength="37" lengthAdjust="spacingAndGlyphs">0.87</text><path d="M347.0,75.0 L405.0,73.0" stroke="#0e1019" stroke-width="3.74" fill="none" stroke-linejoin="round" /><path d="M345.0,93.0 L420.0,92.0" stroke="#0e1019" stroke-width="4.08" fill="none" stroke-linejoin="round" /><path d="M357.0,55.0 L356.0,113.0" stroke="#0e1019" stroke-width="5.10" fill="none" stroke-linejoin="round" /><path d="M366.0,72.0 L365.0,92.0" stroke="#0e1019" stroke-width="3.40" fill="none" stroke-linejoin="round" /><path d="M374.0,72.0 L373.0,92.0" stroke="#0e1019" stroke-width="3.40" fill="none" stroke-linejoin="round" /><path d="M369,28 L391,24 L390,70 L368,72 Z" fill="#15171f"/><path d="M356,30 L368,29 L368,52 L356,53 Z" fill="#2a2e3a"/><text x="419" y="99" font-family="Liberation Sans" font-size="13" font-weight="bold" fill="#0e1019" stroke="#0e1019" stroke-width="1.7" text-anchor="start" textLength="34" lengthAdjust="spacingAndGlyphs">0.44</text><path d="M385.0,23.0 L367.5,250.0 L365.5,272.0" stroke="#0e1019" stroke-width="4.42" fill="none" stroke-linejoin="round" /><path d="M366.5,285.0 L357.8,393.0" stroke="#0e1019" stroke-width="4.42" fill="none" stroke-linejoin="round" /><path d="M355.0,436.0 L349.0,500.0 L344.7,564.0" stroke="#0e1019" stroke-width="4.42" fill="none" stroke-linejoin="round" /><path d="M394.0,94.0 L376.0,271.0" stroke="#0e1019" stroke-width="4.42" fill="none" stroke-linejoin="round" /><path d="M376.0,284.0 L361.7,478.7" stroke="#0e1019" stroke-width="4.42" fill="none" stroke-linejoin="round" /><path d="M413.6,21.0 L394.0,260.0 L386.0,330.0" stroke="#0e1019" stroke-width="4.42" fill="none" stroke-linejoin="round" /><path d="M420.5,22.0 L404.4,260.0 L397.0,329.0" stroke="#0e1019" stroke-width="4.42" fill="none" stroke-linejoin="round" /><path d="M310.5,271.5 L310.5,284 M310.5,271.5 A58,52 0 0 1 369,219" stroke="#0e1019" stroke-width="4.42" fill="none" stroke-linejoin="round"/><text x="298" y="297" font-family="Liberation Sans" font-size="14" font-weight="bold" fill="#0e1019" stroke="#0e1019" stroke-width="1.7" text-anchor="start" textLength="39" lengthAdjust="spacingAndGlyphs">0.65</text><path d="M243.0,284.5 L286.0,284.5" stroke="#0e1019" stroke-width="4.08" fill="none" stroke-linejoin="round" /><ellipse cx="312.5" cy="180" rx="12" ry="12" stroke="#0e1019" stroke-width="4.93" fill="none"/><text x="312.5" y="186" font-family="Liberation Sans" font-size="15" font-weight="bold" fill="#0e1019" stroke="#0e1019" stroke-width="1.0" text-anchor="middle">1</text><ellipse cx="480" cy="178" rx="15" ry="15" stroke="#0e1019" stroke-width="4.93" fill="none"/><text x="480" y="184" font-family="Liberation Sans" font-size="16" font-weight="bold" fill="#0e1019" stroke="#0e1019" stroke-width="1.0" text-anchor="middle">2</text><ellipse cx="750.5" cy="143" rx="14" ry="14" stroke="#0e1019" stroke-width="4.93" fill="none"/><text x="750.5" y="149" font-family="Liberation Sans" font-size="16" font-weight="bold" fill="#0e1019" stroke="#0e1019" stroke-width="1.0" text-anchor="middle">3</text><ellipse cx="778" cy="265" rx="12.5" ry="12.5" stroke="#0e1019" stroke-width="4.93" fill="none"/><text x="778" y="271" font-family="Liberation Sans" font-size="15" font-weight="bold" fill="#0e1019" stroke="#0e1019" stroke-width="1.0" text-anchor="middle">4</text><ellipse cx="630" cy="275" rx="20" ry="12.5" stroke="#0e1019" stroke-width="5.44" fill="none"/><text x="630" y="281" font-family="Liberation Sans" font-size="16" font-weight="bold" fill="#0e1019" stroke="#0e1019" stroke-width="1.0" text-anchor="middle">5</text><ellipse cx="525" cy="466" rx="17" ry="17" stroke="#0e1019" stroke-width="4.93" fill="none"/><text x="525" y="473" font-family="Liberation Sans" font-size="19" font-weight="bold" fill="#0e1019" stroke="#0e1019" stroke-width="1.0" text-anchor="middle">6</text><ellipse cx="322" cy="488" rx="10.5" ry="10.5" stroke="#0e1019" stroke-width="4.93" fill="none"/><text x="322" y="494" font-family="Liberation Sans" font-size="15" font-weight="bold" fill="#0e1019" stroke="#0e1019" stroke-width="1.0" text-anchor="middle">7</text><ellipse cx="269" cy="356.5" rx="13" ry="13" stroke="#0e1019" stroke-width="4.93" fill="none"/><text x="269" y="362" font-family="Liberation Sans" font-size="15" font-weight="bold" fill="#0e1019" stroke="#0e1019" stroke-width="1.0" text-anchor="middle">8</text><text x="271" y="148" font-family="Liberation Sans" font-size="17" font-weight="bold" fill="#0e1019" stroke="#0e1019" stroke-width="1.3" text-anchor="middle" textLength="25" lengthAdjust="spacingAndGlyphs" transform="rotate(-90 271 148)">3.5</text><text x="381" y="181" font-family="Liberation Sans" font-size="15" font-weight="bold" fill="#0e1019" stroke="#0e1019" stroke-width="1.2" text-anchor="middle" textLength="38" lengthAdjust="spacingAndGlyphs" transform="rotate(-90 381 181)">2.75</text><text x="414" y="172" font-family="Liberation Sans" font-size="15" font-weight="bold" fill="#0e1019" stroke="#0e1019" stroke-width="1.2" text-anchor="middle" textLength="30" lengthAdjust="spacingAndGlyphs" transform="rotate(-90 414 172)">4.05</text><text x="249" y="361" font-family="Liberation Sans" font-size="14" font-weight="bold" fill="#0e1019" stroke="#0e1019" stroke-width="1.1" text-anchor="middle" textLength="22" lengthAdjust="spacingAndGlyphs" transform="rotate(-90 249 361)">2.1</text><text x="362" y="414" font-family="Liberation Sans" font-size="14" font-weight="bold" fill="#0e1019" stroke="#0e1019" stroke-width="1.0" text-anchor="middle" textLength="34" lengthAdjust="spacingAndGlyphs" transform="rotate(-90 362 414)">4.07</text><text x="328" y="467" font-family="Liberation Sans" font-size="14" font-weight="bold" fill="#0e1019" stroke="#0e1019" stroke-width="1.0" text-anchor="middle" textLength="20" lengthAdjust="spacingAndGlyphs" transform="rotate(-90 328 467)">1.5</text><path d="M285.0,466.0 L312.0,466.0" stroke="#0e1019" stroke-width="3.74" fill="none" stroke-linejoin="round" /><path d="M333.0,466.0 L361.0,466.0" stroke="#0e1019" stroke-width="3.74" fill="none" stroke-linejoin="round" /><path d="M412.0,21.0 L590.0,17.0" stroke="#0e1019" stroke-width="4.42" fill="none" stroke-linejoin="round" /><path d="M413.0,56.0 L476.0,56.0" stroke="#0e1019" stroke-width="3.74" fill="none" stroke-linejoin="round" /><path d="M517.0,56.0 L587.0,54.0" stroke="#0e1019" stroke-width="3.74" fill="none" stroke-linejoin="round" /><text x="476" y="63" font-family="Liberation Sans" font-size="14" font-weight="bold" fill="#0e1019" stroke="#0e1019" stroke-width="1.7" text-anchor="start" textLength="41" lengthAdjust="spacingAndGlyphs">2.68</text><path d="M592.5,16.0 L572.5,270.0" stroke="#0e1019" stroke-width="4.42" fill="none" stroke-linejoin="round" /><path d="M605.6,16.0 L598.0,150.0" stroke="#0e1019" stroke-width="4.42" fill="none" stroke-linejoin="round" /><path d="M590.0,214.0 L584.5,270.0" stroke="#0e1019" stroke-width="4.42" fill="none" stroke-linejoin="round" /><path d="M592,151 L601,151 L599,214 L590,214 Z" fill="#0e1019"/><path d="M609.0,16.0 L879.0,16.0" stroke="#0e1019" stroke-width="4.42" fill="none" stroke-linejoin="round" /><path d="M606.0,52.0 L737.0,52.0" stroke="#0e1019" stroke-width="3.74" fill="none" stroke-linejoin="round" /><path d="M783.0,52.0 L873.0,51.0" stroke="#0e1019" stroke-width="3.74" fill="none" stroke-linejoin="round" /><text x="737" y="60" font-family="Liberation Sans" font-size="15" font-weight="bold" fill="#0e1019" stroke="#0e1019" stroke-width="1.7" text-anchor="start" textLength="46" lengthAdjust="spacingAndGlyphs">3.26</text><path d="M863.0,16.0 L856.0,95.0" stroke="#0e1019" stroke-width="4.42" fill="none" stroke-linejoin="round" /><path d="M853.0,126.0 L847.0,206.0" stroke="#0e1019" stroke-width="4.42" fill="none" stroke-linejoin="round" /><text x="860" y="111" font-family="Liberation Sans" font-size="16" font-weight="bold" fill="#0e1019" stroke="#0e1019" stroke-width="1.2" text-anchor="middle" textLength="28" lengthAdjust="spacingAndGlyphs" transform="rotate(-90 860 111)">2.9</text><path d="M876.0,14.0 L860.0,209.0 L856.6,222.0 L847.0,320.0 L843.8,350.7 L817.7,567.7 L757.0,565.7 L757.0,547.6" stroke="#0e1019" stroke-width="4.42" fill="none" stroke-linejoin="round" /><path d="M890.0,0.0 L872.0,220.0 L829.7,583.8 L520.0,568.8 L344.7,564.0" stroke="#0e1019" stroke-width="4.42" fill="none" stroke-linejoin="round" /><path d="M689.0,206.0 L863.0,206.0" stroke="#0e1019" stroke-width="4.42" fill="none" stroke-linejoin="round" /><path d="M747.0,219.0 L860.0,219.0" stroke="#0e1019" stroke-width="4.42" fill="none" stroke-linejoin="round" /><path d="M689.0,198.0 L763.0,198.0" stroke="#0e1019" stroke-width="3.74" fill="none" stroke-linejoin="round" /><text x="763" y="204" font-family="Liberation Sans" font-size="12" font-weight="bold" fill="#0e1019" stroke="#0e1019" stroke-width="1.7" text-anchor="start" textLength="39" lengthAdjust="spacingAndGlyphs">0.55</text><path d="M745.6,198.0 L745.6,254.0" stroke="#0e1019" stroke-width="4.08" fill="none" stroke-linejoin="round" /><text x="745" y="272" font-family="Liberation Sans" font-size="14" font-weight="bold" fill="#0e1019" stroke="#0e1019" stroke-width="1.0" text-anchor="middle" textLength="34" lengthAdjust="spacingAndGlyphs" transform="rotate(-90 745 272)">1.22</text><path d="M745.0,290.0 L745.0,300.0" stroke="#0e1019" stroke-width="3.74" fill="none" stroke-linejoin="round" /><path d="M568.0,231.0 L602.0,231.0" stroke="#0e1019" stroke-width="3.74" fill="none" stroke-linejoin="round" /><path d="M667.0,231.0 L783.0,230.0" stroke="#0e1019" stroke-width="3.74" fill="none" stroke-linejoin="round" /><path d="M818.0,230.0 L857.0,229.0" stroke="#0e1019" stroke-width="3.74" fill="none" stroke-linejoin="round" /><text x="602" y="238" font-family="Liberation Sans" font-size="13" font-weight="bold" fill="#0e1019" stroke="#0e1019" stroke-width="1.7" text-anchor="start" textLength="65" lengthAdjust="spacingAndGlyphs">0.962</text><text x="783" y="237" font-family="Liberation Sans" font-size="12" font-weight="bold" fill="#0e1019" stroke="#0e1019" stroke-width="1.7" text-anchor="start" textLength="35" lengthAdjust="spacingAndGlyphs">1.63</text><path d="M820.0,222.0 L819.0,260.0" stroke="#0e1019" stroke-width="4.08" fill="none" stroke-linejoin="round" /><path d="M818.0,293.0 L816.0,320.0" stroke="#0e1019" stroke-width="4.08" fill="none" stroke-linejoin="round" /><text x="823" y="277" font-family="Liberation Sans" font-size="14" font-weight="bold" fill="#0e1019" stroke="#0e1019" stroke-width="1.0" text-anchor="middle" textLength="32" lengthAdjust="spacingAndGlyphs" transform="rotate(90 823 277)">1.71</text><path d="M602,151 A84,42 0 0 1 686,193 L686,215 L692.6,219 L691,277" stroke="#0e1019" stroke-width="5.10" fill="none" stroke-linejoin="round"/><path d="M699.0,219.0 L699.0,277.0 L747.0,277.0" stroke="#0e1019" stroke-width="4.08" fill="none" stroke-linejoin="round" /><path d="M572.5,270 A62,52 0 0 0 510,322 L566,325 L580.5,326.5" stroke="#0e1019" stroke-width="4.76" fill="none" stroke-linejoin="round"/><path d="M584.5,340.6 A73,56 0 0 0 657,397 L669,335" stroke="#0e1019" stroke-width="5.10" fill="none" stroke-linejoin="round"/><path d="M687,276 A58,42 0 0 1 745,318 L681,326.5 L669,335" stroke="#0e1019" stroke-width="4.76" fill="none" stroke-linejoin="round"/><path d="M681.0,334.6 L846.0,334.6" stroke="#0e1019" stroke-width="4.42" fill="none" stroke-linejoin="round" /><text x="753" y="340" font-family="Liberation Sans" font-size="12" font-weight="bold" fill="#0e1019" stroke="#0e1019" stroke-width="1.7" text-anchor="start" textLength="36" lengthAdjust="spacingAndGlyphs">2.48</text><path d="M386.0,330.0 L576.0,325.0 L580.5,328.0" stroke="#0e1019" stroke-width="4.42" fill="none" stroke-linejoin="round" /><path d="M383.0,343.6 L580.0,343.0" stroke="#0e1019" stroke-width="4.42" fill="none" stroke-linejoin="round" /><path d="M669.0,345.4 L765.0,346.6 L843.8,350.7" stroke="#0e1019" stroke-width="4.42" fill="none" stroke-linejoin="round" /><path d="M383.0,343.6 L373.7,480.0" stroke="#0e1019" stroke-width="4.42" fill="none" stroke-linejoin="round" /><path d="M708.0,346.6 L699.0,430.0" stroke="#0e1019" stroke-width="4.08" fill="none" stroke-linejoin="round" /><path d="M692.0,477.0 L681.0,562.0" stroke="#0e1019" stroke-width="4.08" fill="none" stroke-linejoin="round" /><text x="700" y="454" font-family="Liberation Sans" font-size="16" font-weight="bold" fill="#0e1019" stroke="#0e1019" stroke-width="1.1" text-anchor="middle" textLength="40" lengthAdjust="spacingAndGlyphs" transform="rotate(-84 700 454)">3.16</text><path d="M380.0,413.0 L524.0,413.0" stroke="#0e1019" stroke-width="3.74" fill="none" stroke-linejoin="round" /><path d="M570.0,414.0 L753.0,415.0" stroke="#0e1019" stroke-width="3.74" fill="none" stroke-linejoin="round" /><text x="524" y="421" font-family="Liberation Sans" font-size="14" font-weight="bold" fill="#0e1019" stroke="#0e1019" stroke-width="1.7" text-anchor="start" textLength="42" lengthAdjust="spacingAndGlyphs">4.99</text><path d="M765.0,346.6 L745.0,497.0" stroke="#0e1019" stroke-width="4.42" fill="none" stroke-linejoin="round" /><path d="M777.5,346.6 L761.0,497.0" stroke="#0e1019" stroke-width="4.42" fill="none" stroke-linejoin="round" /><path d="M757,369 L773,369 L762,497 L746,497 Z" fill="#0e1019"/><path d="M745,497 A54,40 0 0 0 691,537.6 L691,541.6 L741,547.6 L741,565.7" stroke="#0e1019" stroke-width="4.76" fill="none" stroke-linejoin="round"/><path d="M757.0,370.7 L785.0,371.0" stroke="#0e1019" stroke-width="3.74" fill="none" stroke-linejoin="round" /><path d="M830.0,371.0 L862.0,371.0" stroke="#0e1019" stroke-width="3.74" fill="none" stroke-linejoin="round" /><text x="785" y="378" font-family="Liberation Sans" font-size="12" font-weight="bold" fill="#0e1019" stroke="#0e1019" stroke-width="1.7" text-anchor="start" textLength="45" lengthAdjust="spacingAndGlyphs">0.95</text><text x="809" y="464" font-family="Liberation Sans" font-size="16" font-weight="bold" fill="#0e1019" stroke="#0e1019" stroke-width="0.9" text-anchor="middle" textLength="58" lengthAdjust="spacingAndGlyphs" transform="rotate(-90 809 464)">LOGIE</text><path d="M741.0,563.7 L520.0,557.5 L367.0,554.0 L367.0,536.6" stroke="#0e1019" stroke-width="4.42" fill="none" stroke-linejoin="round" /><path d="M373.7,480 A46,55 0 0 1 420,535 L354,535 L354,552.7 L346,552.7" stroke="#0e1019" stroke-width="4.76" fill="none" stroke-linejoin="round"/><path d="M310,570 L284,614 L334,616 Z" stroke="#0e1019" stroke-width="4.08" fill="none" stroke-linejoin="round"/>
<g><text x="472" y="664" font-family="Liberation Sans" font-weight="bold" font-size="80" fill="#ebe8e8" opacity="0.28" textLength="140" lengthAdjust="spacingAndGlyphs">SVN</text><path d="M388,634 C370,650 380,668 410,666 C440,664 465,650 463,630 C462,620 455,616 446,618" stroke="#e6a880" stroke-width="3.2" fill="none" opacity="0.6"/><rect x="398" y="600" width="11" height="66" fill="#ebe8e8" opacity="0.22"/><rect x="422" y="598" width="11" height="68" fill="#ebe8e8" opacity="0.22"/><text x="488" y="697" font-family="Liberation Sans" font-size="25" fill="#e7b9a0" opacity="0.65" textLength="128" lengthAdjust="spacingAndGlyphs">ROMANIA</text></g>
<text x="297" y="705" font-family="Liberation Sans" font-size="23" font-weight="bold" fill="#1c2035" stroke="#1c2035" stroke-width="0.6" text-anchor="start" textLength="160" lengthAdjust="spacingAndGlyphs" transform="rotate(2.9 297 705)">RECAPITULATIE</text>
<path d="M225.7,757.7 L788.8,790.0" stroke="#2a3050" stroke-width="2.63" fill="none" stroke-linejoin="round" /><path d="M222.0,804.0 L783.6,840.0" stroke="#2a3050" stroke-width="2.63" fill="none" stroke-linejoin="round" /><path d="M219.3,836.5 L780.0,873.8" stroke="#2a3050" stroke-width="2.63" fill="none" stroke-linejoin="round" /><path d="M216.8,868.7 L776.5,907.6" stroke="#2a3050" stroke-width="2.63" fill="none" stroke-linejoin="round" /><path d="M214.2,900.8 L772.9,941.4" stroke="#2a3050" stroke-width="2.63" fill="none" stroke-linejoin="round" /><path d="M211.6,933.0 L769.2,977.3" stroke="#2a3050" stroke-width="2.63" fill="none" stroke-linejoin="round" /><path d="M208.9,965.7 L765.6,1011.0" stroke="#2a3050" stroke-width="2.63" fill="none" stroke-linejoin="round" /><path d="M206.2,999.5 L761.9,1046.5" stroke="#2a3050" stroke-width="2.63" fill="none" stroke-linejoin="round" /><path d="M203.5,1033.0 L758.2,1082.0" stroke="#2a3050" stroke-width="2.63" fill="none" stroke-linejoin="round" /><path d="M200.9,1065.4 L754.7,1115.6" stroke="#2a3050" stroke-width="2.63" fill="none" stroke-linejoin="round" /><path d="M198.2,1099.0 L750.8,1152.6" stroke="#2a3050" stroke-width="2.63" fill="none" stroke-linejoin="round" /><path d="M195.5,1133.0 L747.1,1188.0" stroke="#2a3050" stroke-width="2.63" fill="none" stroke-linejoin="round" /><path d="M193.0,1163.5 L743.4,1223.4" stroke="#7a8095" stroke-width="1.36" fill="none" stroke-linejoin="round" /><path d="M225.7,757.7 L193.0,1163.5" stroke="#2a3050" stroke-width="2.63" fill="none" stroke-linejoin="round" /><path d="M788.8,790.0 L743.4,1223.4" stroke="#2a3050" stroke-width="2.63" fill="none" stroke-linejoin="round" /><path d="M354.0,765.7 L331.0,1077.0" stroke="#2a3050" stroke-width="2.63" fill="none" stroke-linejoin="round" /><path d="M555.6,777.3 L523.0,1197.7" stroke="#2a3050" stroke-width="2.63" fill="none" stroke-linejoin="round" /><text x="272" y="782" font-family="Liberation Mono" font-size="17" font-weight="normal" fill="#2a3050" stroke="#2a3050" stroke-width="1.0" text-anchor="start" textLength="29" lengthAdjust="spacingAndGlyphs" transform="rotate(3.2 272 782)">Nr.</text><text x="240" y="802" font-family="Liberation Mono" font-size="18" font-weight="normal" fill="#2a3050" stroke="#2a3050" stroke-width="1.0" text-anchor="start" textLength="84" lengthAdjust="spacingAndGlyphs" transform="rotate(3.2 240 802)">Incapere</text><text x="399" y="789" font-family="Liberation Mono" font-size="18" font-weight="normal" fill="#2a3050" stroke="#2a3050" stroke-width="1.0" text-anchor="start" textLength="87" lengthAdjust="spacingAndGlyphs" transform="rotate(3.2 399 789)">Denunire</text><text x="395" y="812" font-family="Liberation Mono" font-size="18" font-weight="normal" fill="#2a3050" stroke="#2a3050" stroke-width="1.0" text-anchor="start" textLength="85" lengthAdjust="spacingAndGlyphs" transform="rotate(3.2 395 812)">Incapere</text><text x="564" y="797" font-family="Liberation Mono" font-size="19" font-weight="normal" fill="#2a3050" stroke="#2a3050" stroke-width="1.0" text-anchor="start" textLength="194" lengthAdjust="spacingAndGlyphs" transform="rotate(3.2 564 797)">Suprafata utila</text><text x="638" y="823" font-family="Liberation Mono" font-size="18" font-weight="normal" fill="#2a3050" stroke="#2a3050" stroke-width="1.0" text-anchor="start" textLength="48" lengthAdjust="spacingAndGlyphs" transform="rotate(3.2 638 823)">[mp]</text><text x="267" y="829" font-family="Liberation Mono" font-size="20" font-weight="normal" fill="#2a3050" stroke="#2a3050" stroke-width="1.0" text-anchor="start" transform="rotate(3.2 267 829)">1</text><text x="262" y="861" font-family="Liberation Mono" font-size="20" font-weight="normal" fill="#2a3050" stroke="#2a3050" stroke-width="1.0" text-anchor="start" transform="rotate(3.2 262 861)">2</text><text x="262" y="896" font-family="Liberation Mono" font-size="20" font-weight="normal" fill="#2a3050" stroke="#2a3050" stroke-width="1.0" text-anchor="start" transform="rotate(3.2 262 896)">3</text><text x="260" y="931" font-family="Liberation Mono" font-size="20" font-weight="normal" fill="#2a3050" stroke="#2a3050" stroke-width="1.0" text-anchor="start" transform="rotate(3.2 260 931)">4</text><text x="260" y="959" font-family="Liberation Mono" font-size="20" font-weight="normal" fill="#2a3050" stroke="#2a3050" stroke-width="1.0" text-anchor="start" transform="rotate(3.2 260 959)">5</text><text x="258" y="992" font-family="Liberation Mono" font-size="20" font-weight="normal" fill="#2a3050" stroke="#2a3050" stroke-width="1.0" text-anchor="start" transform="rotate(3.2 258 992)">6</text><text x="256" y="1025" font-family="Liberation Mono" font-size="20" font-weight="normal" fill="#2a3050" stroke="#2a3050" stroke-width="1.0" text-anchor="start" transform="rotate(3.2 256 1025)">7</text><text x="251" y="1059" font-family="Liberation Mono" font-size="20" font-weight="normal" fill="#2a3050" stroke="#2a3050" stroke-width="1.0" text-anchor="start" transform="rotate(3.2 251 1059)">8</text><text x="377" y="840" font-family="Liberation Mono" font-size="19" font-weight="normal" fill="#2a3050" stroke="#2a3050" stroke-width="1.0" text-anchor="start" textLength="101" lengthAdjust="spacingAndGlyphs" transform="rotate(3.2 377 840)">BUCATARIE</text><text x="372" y="872" font-family="Liberation Mono" font-size="19" font-weight="normal" fill="#2a3050" stroke="#2a3050" stroke-width="1.0" text-anchor="start" textLength="69" lengthAdjust="spacingAndGlyphs" transform="rotate(3.2 372 872)">CAMERA</text><text x="370" y="903" font-family="Liberation Mono" font-size="19" font-weight="normal" fill="#2a3050" stroke="#2a3050" stroke-width="1.0" text-anchor="start" textLength="77" lengthAdjust="spacingAndGlyphs" transform="rotate(3.2 370 903)">CAMERA</text><text x="370" y="934" font-family="Liberation Mono" font-size="19" font-weight="normal" fill="#2a3050" stroke="#2a3050" stroke-width="1.0" text-anchor="start" textLength="40" lengthAdjust="spacingAndGlyphs" transform="rotate(3.2 370 934)">Bale</text><text x="366" y="966" font-family="Liberation Mono" font-size="19" font-weight="normal" fill="#2a3050" stroke="#2a3050" stroke-width="1.0" text-anchor="start" textLength="37" lengthAdjust="spacingAndGlyphs" transform="rotate(3.2 366 966)">SAS</text><text x="362" y="998" font-family="Liberation Mono" font-size="19" font-weight="normal" fill="#2a3050" stroke="#2a3050" stroke-width="1.0" text-anchor="start" textLength="77" lengthAdjust="spacingAndGlyphs" transform="rotate(3.2 362 998)">CAMERA</text><text x="362" y="1038" font-family="Liberation Mono" font-size="19" font-weight="normal" fill="#2a3050" stroke="#2a3050" stroke-width="1.0" text-anchor="start" textLength="103" lengthAdjust="spacingAndGlyphs" transform="rotate(3.2 362 1038)">VESTIBUL</text><text x="358" y="1067" font-family="Liberation Mono" font-size="19" font-weight="normal" fill="#2a3050" stroke="#2a3050" stroke-width="1.0" text-anchor="start" textLength="69" lengthAdjust="spacingAndGlyphs" transform="rotate(3.2 358 1067)">DEBARA</text><text x="239" y="1097" font-family="Liberation Mono" font-size="21" font-weight="normal" fill="#2a3050" stroke="#2a3050" stroke-width="1.0" text-anchor="start" textLength="270" lengthAdjust="spacingAndGlyphs" transform="rotate(4 239 1097)">TOTAL SUPRAFATA UTILA</text><text x="236" y="1140" font-family="Liberation Mono" font-size="20" font-weight="normal" fill="#2a3050" stroke="#2a3050" stroke-width="1.0" text-anchor="start" textLength="60" lengthAdjust="spacingAndGlyphs" transform="rotate(3.2 236 1140)">LOGIE</text><text x="238" y="1164" font-family="Liberation Mono" font-size="19" font-weight="normal" fill="#2a3050" stroke="#2a3050" stroke-width="1.0" text-anchor="start" textLength="56" lengthAdjust="spacingAndGlyphs" transform="rotate(3.2 238 1164)">TOTAL</text><text x="649" y="853" font-family="Liberation Mono" font-size="21" font-weight="normal" fill="#2a3050" stroke="#2a3050" stroke-width="1.0" text-anchor="start" textLength="42" lengthAdjust="spacingAndGlyphs" transform="rotate(3.2 649 853)">7.93</text><text x="649" y="893" font-family="Liberation Mono" font-size="21" font-weight="normal" fill="#2a3050" stroke="#2a3050" stroke-width="1.0" text-anchor="start" textLength="53" lengthAdjust="spacingAndGlyphs" transform="rotate(3.2 649 893)">12.89</text><text x="586" y="920" font-family="Liberation Mono" font-size="21" font-weight="normal" fill="#2a3050" stroke="#2a3050" stroke-width="1.0" text-anchor="start" textLength="55" lengthAdjust="spacingAndGlyphs" transform="rotate(3.2 586 920)">9.45</text><text x="649" y="957" font-family="Liberation Mono" font-size="21" font-weight="normal" fill="#2a3050" stroke="#2a3050" stroke-width="1.0" text-anchor="start" textLength="42" lengthAdjust="spacingAndGlyphs" transform="rotate(3.2 649 957)">3.61</text><text x="642" y="994" font-family="Liberation Mono" font-size="21" font-weight="normal" fill="#2a3050" stroke="#2a3050" stroke-width="1.0" text-anchor="start" textLength="42" lengthAdjust="spacingAndGlyphs" transform="rotate(3.2 642 994)">1.67</text><text x="639" y="1026" font-family="Liberation Mono" font-size="21" font-weight="normal" fill="#2a3050" stroke="#2a3050" stroke-width="1.0" text-anchor="start" textLength="55" lengthAdjust="spacingAndGlyphs" transform="rotate(3.2 639 1026)">15.77</text><text x="634" y="1065" font-family="Liberation Mono" font-size="21" font-weight="normal" fill="#2a3050" stroke="#2a3050" stroke-width="1.0" text-anchor="start" textLength="45" lengthAdjust="spacingAndGlyphs" transform="rotate(3.2 634 1065)">4.88</text><text x="629" y="1097" font-family="Liberation Mono" font-size="21" font-weight="normal" fill="#2a3050" stroke="#2a3050" stroke-width="1.0" text-anchor="start" textLength="40" lengthAdjust="spacingAndGlyphs" transform="rotate(3.2 629 1097)">1.56</text><text x="640" y="1133" font-family="Liberation Mono" font-size="21" font-weight="normal" fill="#2a3050" stroke="#2a3050" stroke-width="1.0" text-anchor="start" textLength="60" lengthAdjust="spacingAndGlyphs" transform="rotate(3.2 640 1133)">57.76</text><text x="623" y="1164" font-family="Liberation Mono" font-size="21" font-weight="normal" fill="#2a3050" stroke="#2a3050" stroke-width="1.0" text-anchor="start" textLength="42" lengthAdjust="spacingAndGlyphs" transform="rotate(3.2 623 1164)">3.00</text><text x="621" y="1201" font-family="Liberation Mono" font-size="21" font-weight="normal" fill="#2a3050" stroke="#2a3050" stroke-width="1.0" text-anchor="start" textLength="52" lengthAdjust="spacingAndGlyphs" transform="rotate(3.2 621 1201)">60.76</text>
<text x="72" y="1268" font-family="Liberation Mono" font-size="18" font-weight="normal" fill="#252a45" stroke="#252a45" stroke-width="0.6" text-anchor="start" textLength="245" lengthAdjust="spacingAndGlyphs" transform="rotate(3.8 72 1268)">Numele si prenumele</text><text x="330" y="1286" font-family="Liberation Mono" font-size="18" font-weight="normal" fill="#4a5068" stroke="#4a5068" stroke-width="0.4" text-anchor="start" textLength="100" lengthAdjust="spacingAndGlyphs" transform="rotate(3.8 330 1286)">executant</text><text x="72" y="1291" font-family="Liberation Mono" font-size="18" font-weight="normal" fill="#303550" stroke="#303550" stroke-width="0.4" text-anchor="start" textLength="110" lengthAdjust="spacingAndGlyphs" transform="rotate(3.8 72 1291)">Semnatura</text>
</g>
</svg>
</body></html>
